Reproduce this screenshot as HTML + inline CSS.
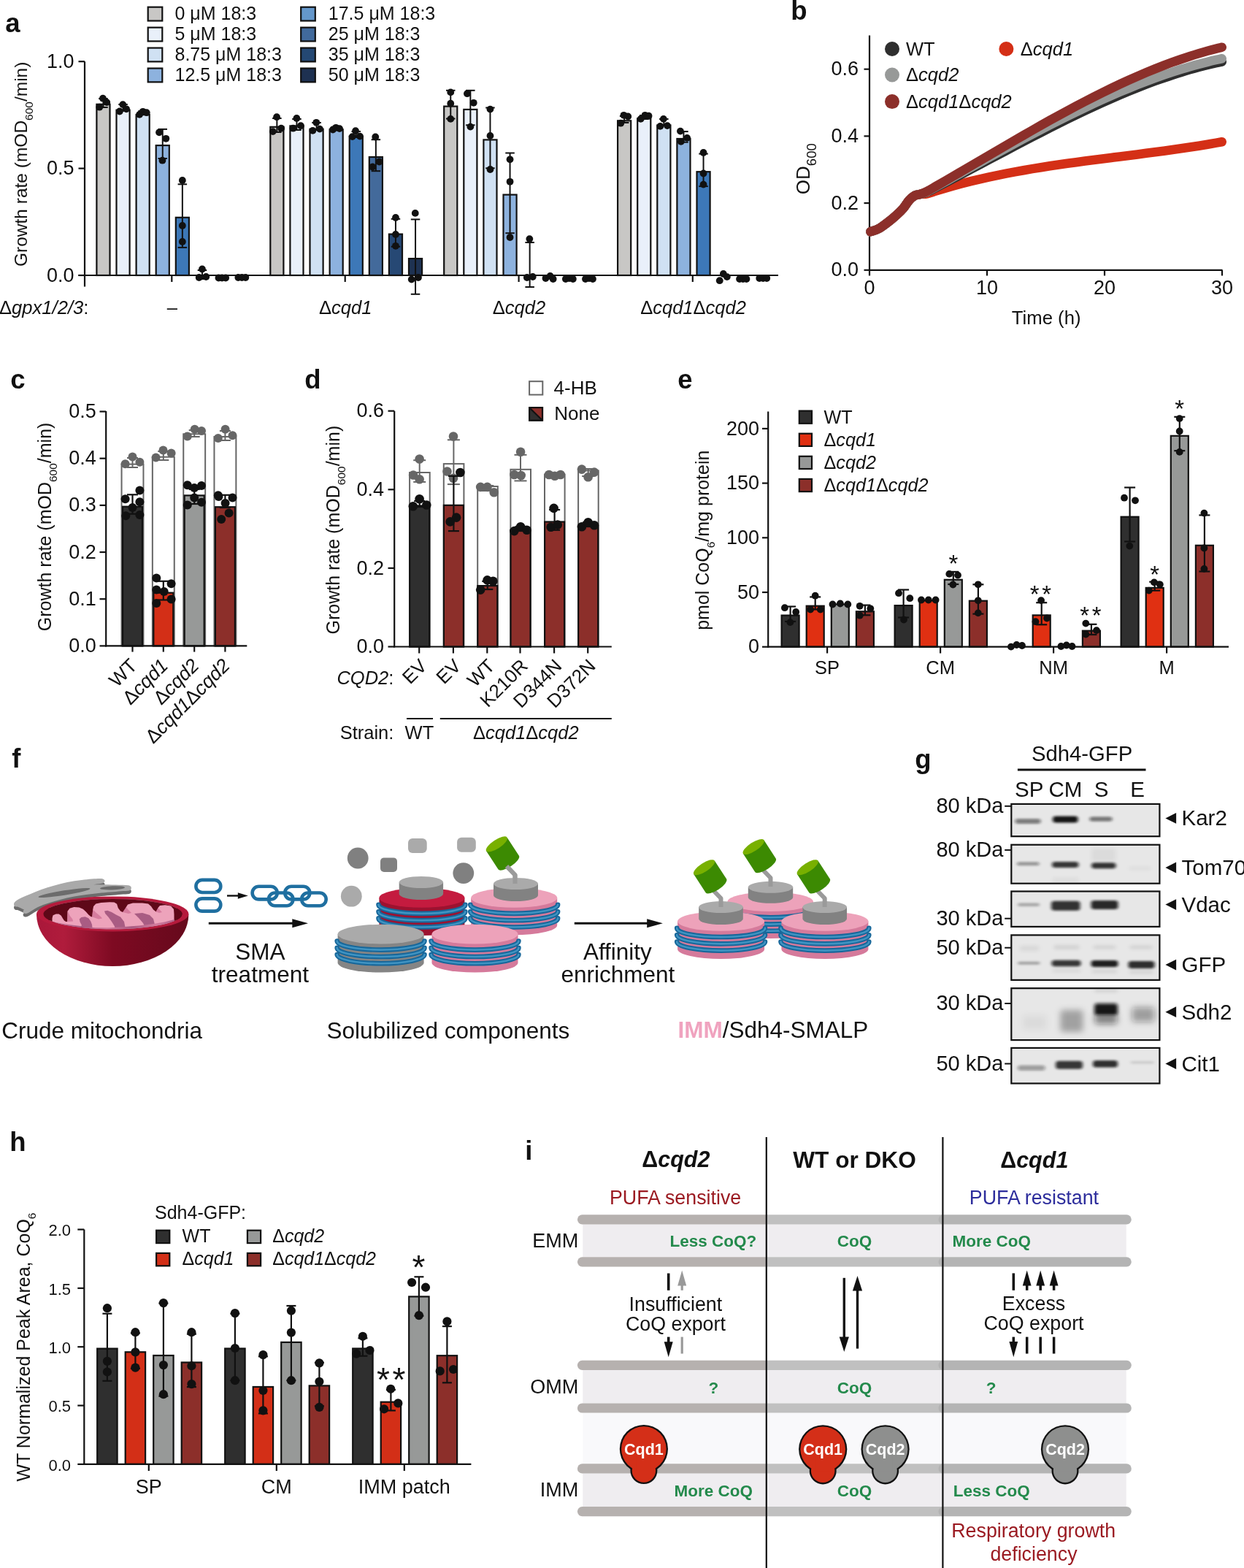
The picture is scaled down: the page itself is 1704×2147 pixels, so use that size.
<!DOCTYPE html><html><head><meta charset="utf-8"><title>Figure</title>
<style>html,body{margin:0;padding:0;background:#fff;}svg{display:block;}text{font-family:"Liberation Sans", Arial, Helvetica, sans-serif;}</style></head><body>
<svg xmlns="http://www.w3.org/2000/svg" width="1704" height="2147" viewBox="0 0 1704 2147" fill="#111">
<rect x="0" y="0" width="1704" height="2147" fill="#fff"/>
<text x="7.2" y="44" font-size="36.5" font-weight="bold">a</text>
<text x="1083.2" y="26.8" font-size="36.5" font-weight="bold">b</text>
<text x="14.2" y="532" font-size="36.5" font-weight="bold">c</text>
<text x="417.2" y="532" font-size="36.5" font-weight="bold">d</text>
<text x="928.2" y="532" font-size="36.5" font-weight="bold">e</text>
<text x="16.2" y="1051" font-size="36.5" font-weight="bold">f</text>
<text x="1253.2" y="1052" font-size="36.5" font-weight="bold">g</text>
<text x="13.2" y="1576" font-size="36.5" font-weight="bold">h</text>
<text x="719.2" y="1588" font-size="36.5" font-weight="bold">i</text>
<rect x="202.7" y="9.7" width="19.6" height="18.8" fill="#c8c7c5" stroke="#111" stroke-width="2.2" />
<text x="239.5" y="26.9" font-size="25">0 μM 18:3</text>
<rect x="202.7" y="37.65" width="19.6" height="18.8" fill="#e9f0fa" stroke="#111" stroke-width="2.2" />
<text x="239.5" y="54.85" font-size="25">5 μM 18:3</text>
<rect x="202.7" y="65.6" width="19.6" height="18.8" fill="#d0e1f3" stroke="#111" stroke-width="2.2" />
<text x="239.5" y="82.8" font-size="25">8.75 μM 18:3</text>
<rect x="202.7" y="93.55" width="19.6" height="18.8" fill="#8db2de" stroke="#111" stroke-width="2.2" />
<text x="239.5" y="110.75" font-size="25">12.5 μM 18:3</text>
<rect x="412.2" y="9.7" width="19.6" height="18.8" fill="#6497cb" stroke="#111" stroke-width="2.2" />
<text x="449.8" y="26.9" font-size="25">17.5 μM 18:3</text>
<rect x="412.2" y="37.65" width="19.6" height="18.8" fill="#416a9c" stroke="#111" stroke-width="2.2" />
<text x="449.8" y="54.85" font-size="25">25 μM 18:3</text>
<rect x="412.2" y="65.6" width="19.6" height="18.8" fill="#244873" stroke="#111" stroke-width="2.2" />
<text x="449.8" y="82.8" font-size="25">35 μM 18:3</text>
<rect x="412.2" y="93.55" width="19.6" height="18.8" fill="#1e3151" stroke="#111" stroke-width="2.2" />
<text x="449.8" y="110.75" font-size="25">50 μM 18:3</text>
<line x1="116" y1="84.2" x2="116" y2="392.5" stroke="#111" stroke-width="2.2" />
<line x1="107.5" y1="377" x2="1066" y2="377" stroke="#111" stroke-width="2.2" />
<line x1="107.5" y1="84.2" x2="116" y2="84.2" stroke="#111" stroke-width="2.2" />
<text x="101.6" y="92.8" font-size="27" text-anchor="end">1.0</text>
<line x1="107.5" y1="230.6" x2="116" y2="230.6" stroke="#111" stroke-width="2.2" />
<text x="101.6" y="239.2" font-size="27" text-anchor="end">0.5</text>
<line x1="107.5" y1="377" x2="116" y2="377" stroke="#111" stroke-width="2.2" />
<text x="101.6" y="385.6" font-size="27" text-anchor="end">0.0</text>
<line x1="235.3" y1="377" x2="235.3" y2="386" stroke="#111" stroke-width="2.2" />
<line x1="472.7" y1="377" x2="472.7" y2="386" stroke="#111" stroke-width="2.2" />
<line x1="710.6" y1="377" x2="710.6" y2="386" stroke="#111" stroke-width="2.2" />
<line x1="948.8" y1="377" x2="948.8" y2="386" stroke="#111" stroke-width="2.2" />
<text x="37" y="224.8" font-size="24.5" text-anchor="middle" transform="rotate(-90 37 224.8)">Growth rate (mOD<tspan font-size="15.5" dy="8">600</tspan><tspan dy="-8">/min)</tspan></text>
<text x="-1" y="429.5" font-size="25.6">Δ<tspan font-style="italic">gpx1/2/3</tspan>:</text>
<text x="235.8" y="429.5" font-size="25.6" text-anchor="middle">–</text>
<text x="473.2" y="429.5" font-size="25.6" text-anchor="middle">Δ<tspan font-style="italic">cqd1</tspan></text>
<text x="711" y="429.5" font-size="25.6" text-anchor="middle">Δ<tspan font-style="italic">cqd2</tspan></text>
<text x="949.5" y="429.5" font-size="25.5" text-anchor="middle">Δ<tspan font-style="italic">cqd1</tspan>Δ<tspan font-style="italic">cqd2</tspan></text>
<rect x="132.4" y="142.8" width="18.1" height="234.2" fill="#c8c7c5" stroke="#111" stroke-width="2.2" />
<line x1="141.45" y1="135" x2="141.45" y2="147" stroke="#111" stroke-width="2" />
<line x1="135.2" y1="135" x2="147.7" y2="135" stroke="#111" stroke-width="2" />
<line x1="135.2" y1="147" x2="147.7" y2="147" stroke="#111" stroke-width="2" />
<circle cx="136.25" cy="146.7" r="4.9" fill="#111" />
<circle cx="140.95" cy="134.7" r="4.9" fill="#111" />
<circle cx="146.25" cy="140.1" r="4.9" fill="#111" />
<rect x="159.5" y="150.7" width="18.1" height="226.3" fill="#e9f0fa" stroke="#111" stroke-width="2.2" />
<line x1="168.55" y1="143" x2="168.55" y2="152" stroke="#111" stroke-width="2" />
<line x1="162.3" y1="143" x2="174.8" y2="143" stroke="#111" stroke-width="2" />
<line x1="162.3" y1="152" x2="174.8" y2="152" stroke="#111" stroke-width="2" />
<circle cx="163.85" cy="152.5" r="4.9" fill="#111" />
<circle cx="168.25" cy="143.1" r="4.9" fill="#111" />
<circle cx="173.05" cy="149.3" r="4.9" fill="#111" />
<rect x="186.6" y="157.1" width="18.1" height="219.9" fill="#d0e1f3" stroke="#111" stroke-width="2.2" />
<line x1="195.65" y1="152" x2="195.65" y2="157" stroke="#111" stroke-width="2" />
<line x1="189.4" y1="152" x2="201.9" y2="152" stroke="#111" stroke-width="2" />
<line x1="189.4" y1="157" x2="201.9" y2="157" stroke="#111" stroke-width="2" />
<circle cx="191.05" cy="156.9" r="4.9" fill="#111" />
<circle cx="195.75" cy="152.8" r="4.9" fill="#111" />
<circle cx="200.75" cy="154.2" r="4.9" fill="#111" />
<rect x="213.7" y="199.1" width="18.1" height="177.9" fill="#8db2de" stroke="#111" stroke-width="2.2" />
<line x1="222.75" y1="176.9" x2="222.75" y2="217" stroke="#111" stroke-width="2" />
<line x1="216.5" y1="176.9" x2="229" y2="176.9" stroke="#111" stroke-width="2" />
<line x1="216.5" y1="217" x2="229" y2="217" stroke="#111" stroke-width="2" />
<circle cx="218.05" cy="181.3" r="4.9" fill="#111" />
<circle cx="227.35" cy="189.8" r="4.9" fill="#111" />
<circle cx="222.45" cy="219.7" r="4.9" fill="#111" />
<rect x="240.8" y="297.8" width="18.1" height="79.2" fill="#3d78b8" stroke="#111" stroke-width="2.2" />
<line x1="249.85" y1="252.3" x2="249.85" y2="338.9" stroke="#111" stroke-width="2" />
<line x1="243.6" y1="252.3" x2="256.1" y2="252.3" stroke="#111" stroke-width="2" />
<line x1="243.6" y1="338.9" x2="256.1" y2="338.9" stroke="#111" stroke-width="2" />
<circle cx="249.85" cy="247" r="4.9" fill="#111" />
<circle cx="249.85" cy="309" r="4.9" fill="#111" />
<circle cx="249.85" cy="331" r="4.9" fill="#111" />
<line x1="276.95" y1="370" x2="276.95" y2="382" stroke="#111" stroke-width="2" />
<line x1="270.7" y1="370" x2="283.2" y2="370" stroke="#111" stroke-width="2" />
<line x1="270.7" y1="382" x2="283.2" y2="382" stroke="#111" stroke-width="2" />
<circle cx="272.65" cy="380" r="4.9" fill="#111" />
<circle cx="276.95" cy="368.5" r="4.9" fill="#111" />
<circle cx="282.25" cy="379" r="4.9" fill="#111" />
<circle cx="299.45" cy="380.5" r="4.9" fill="#111" />
<circle cx="304.05" cy="380.5" r="4.9" fill="#111" />
<circle cx="309.15" cy="380.5" r="4.9" fill="#111" />
<circle cx="326.35" cy="380" r="4.9" fill="#111" />
<circle cx="331.35" cy="380" r="4.9" fill="#111" />
<circle cx="336.35" cy="380" r="4.9" fill="#111" />
<rect x="370.3" y="173.8" width="18.1" height="203.2" fill="#c8c7c5" stroke="#111" stroke-width="2.2" />
<line x1="379.35" y1="162" x2="379.35" y2="181" stroke="#111" stroke-width="2" />
<line x1="373.1" y1="162" x2="385.6" y2="162" stroke="#111" stroke-width="2" />
<line x1="373.1" y1="181" x2="385.6" y2="181" stroke="#111" stroke-width="2" />
<circle cx="379.05" cy="160.2" r="4.9" fill="#111" />
<circle cx="373.75" cy="180.1" r="4.9" fill="#111" />
<circle cx="385.15" cy="175.7" r="4.9" fill="#111" />
<rect x="397.4" y="172.4" width="18.1" height="204.6" fill="#e9f0fa" stroke="#111" stroke-width="2.2" />
<line x1="406.45" y1="163" x2="406.45" y2="178" stroke="#111" stroke-width="2" />
<line x1="400.2" y1="163" x2="412.7" y2="163" stroke="#111" stroke-width="2" />
<line x1="400.2" y1="178" x2="412.7" y2="178" stroke="#111" stroke-width="2" />
<circle cx="406.35" cy="162" r="4.9" fill="#111" />
<circle cx="401.45" cy="175.7" r="4.9" fill="#111" />
<circle cx="411.95" cy="172.2" r="4.9" fill="#111" />
<rect x="424.5" y="176.8" width="18.1" height="200.2" fill="#d0e1f3" stroke="#111" stroke-width="2.2" />
<line x1="433.55" y1="168" x2="433.55" y2="178" stroke="#111" stroke-width="2" />
<line x1="427.3" y1="168" x2="439.8" y2="168" stroke="#111" stroke-width="2" />
<line x1="427.3" y1="178" x2="439.8" y2="178" stroke="#111" stroke-width="2" />
<circle cx="433.25" cy="167.8" r="4.9" fill="#111" />
<circle cx="428.35" cy="178.9" r="4.9" fill="#111" />
<circle cx="437.95" cy="176.6" r="4.9" fill="#111" />
<rect x="451.6" y="177.3" width="18.1" height="199.7" fill="#8db2de" stroke="#111" stroke-width="2.2" />
<line x1="460.65" y1="175" x2="460.65" y2="178" stroke="#111" stroke-width="2" />
<line x1="454.4" y1="175" x2="466.9" y2="175" stroke="#111" stroke-width="2" />
<line x1="454.4" y1="178" x2="466.9" y2="178" stroke="#111" stroke-width="2" />
<circle cx="455.95" cy="177.5" r="4.9" fill="#111" />
<circle cx="460.15" cy="174.8" r="4.9" fill="#111" />
<circle cx="465.05" cy="176.1" r="4.9" fill="#111" />
<rect x="478.7" y="186.8" width="18.1" height="190.2" fill="#3d78b8" stroke="#111" stroke-width="2.2" />
<line x1="487.75" y1="180" x2="487.75" y2="188" stroke="#111" stroke-width="2" />
<line x1="481.5" y1="180" x2="494" y2="180" stroke="#111" stroke-width="2" />
<line x1="481.5" y1="188" x2="494" y2="188" stroke="#111" stroke-width="2" />
<circle cx="487.05" cy="179.2" r="4.9" fill="#111" />
<circle cx="482.65" cy="187.1" r="4.9" fill="#111" />
<circle cx="492.95" cy="186.6" r="4.9" fill="#111" />
<rect x="505.8" y="215" width="18.1" height="162" fill="#436a9b" stroke="#111" stroke-width="2.2" />
<line x1="514.85" y1="191.2" x2="514.85" y2="234.2" stroke="#111" stroke-width="2" />
<line x1="508.6" y1="191.2" x2="521.1" y2="191.2" stroke="#111" stroke-width="2" />
<line x1="508.6" y1="234.2" x2="521.1" y2="234.2" stroke="#111" stroke-width="2" />
<circle cx="514.25" cy="187.5" r="4.9" fill="#111" />
<circle cx="519.55" cy="221.5" r="4.9" fill="#111" />
<circle cx="510.15" cy="228.5" r="4.9" fill="#111" />
<rect x="532.9" y="320.6" width="18.1" height="56.4" fill="#264874" stroke="#111" stroke-width="2.2" />
<line x1="541.95" y1="299.8" x2="541.95" y2="337.7" stroke="#111" stroke-width="2" />
<line x1="535.7" y1="299.8" x2="548.2" y2="299.8" stroke="#111" stroke-width="2" />
<line x1="535.7" y1="337.7" x2="548.2" y2="337.7" stroke="#111" stroke-width="2" />
<circle cx="541.95" cy="298" r="4.9" fill="#111" />
<circle cx="541.95" cy="321" r="4.9" fill="#111" />
<circle cx="541.95" cy="336.8" r="4.9" fill="#111" />
<rect x="560" y="354.1" width="18.1" height="22.9" fill="#1e3252" stroke="#111" stroke-width="2.2" />
<line x1="569.05" y1="300.4" x2="569.05" y2="402.8" stroke="#111" stroke-width="2" />
<line x1="562.8" y1="300.4" x2="575.3" y2="300.4" stroke="#111" stroke-width="2" />
<line x1="562.8" y1="402.8" x2="575.3" y2="402.8" stroke="#111" stroke-width="2" />
<circle cx="568.75" cy="291.9" r="4.9" fill="#111" />
<circle cx="563.75" cy="382.6" r="4.9" fill="#111" />
<circle cx="572.95" cy="380" r="4.9" fill="#111" />
<rect x="608.2" y="145.6" width="18.1" height="231.4" fill="#c8c7c5" stroke="#111" stroke-width="2.2" />
<line x1="617.25" y1="123.8" x2="617.25" y2="162.5" stroke="#111" stroke-width="2" />
<line x1="611" y1="123.8" x2="623.5" y2="123.8" stroke="#111" stroke-width="2" />
<line x1="611" y1="162.5" x2="623.5" y2="162.5" stroke="#111" stroke-width="2" />
<circle cx="617.25" cy="126.4" r="4.9" fill="#111" />
<circle cx="617.25" cy="141.7" r="4.9" fill="#111" />
<circle cx="617.25" cy="162.9" r="4.9" fill="#111" />
<rect x="635.3" y="149.9" width="18.1" height="227.1" fill="#e9f0fa" stroke="#111" stroke-width="2.2" />
<line x1="644.35" y1="123.8" x2="644.35" y2="171.3" stroke="#111" stroke-width="2" />
<line x1="638.1" y1="123.8" x2="650.6" y2="123.8" stroke="#111" stroke-width="2" />
<line x1="638.1" y1="171.3" x2="650.6" y2="171.3" stroke="#111" stroke-width="2" />
<circle cx="639.95" cy="128.2" r="4.9" fill="#111" />
<circle cx="648.75" cy="140.8" r="4.9" fill="#111" />
<circle cx="644.35" cy="173.6" r="4.9" fill="#111" />
<rect x="662.4" y="191.4" width="18.1" height="185.6" fill="#d0e1f3" stroke="#111" stroke-width="2.2" />
<line x1="671.45" y1="147.5" x2="671.45" y2="230.3" stroke="#111" stroke-width="2" />
<line x1="665.2" y1="147.5" x2="677.7" y2="147.5" stroke="#111" stroke-width="2" />
<line x1="665.2" y1="230.3" x2="677.7" y2="230.3" stroke="#111" stroke-width="2" />
<circle cx="671.45" cy="149.6" r="4.9" fill="#111" />
<circle cx="671.45" cy="185.9" r="4.9" fill="#111" />
<circle cx="671.45" cy="232" r="4.9" fill="#111" />
<rect x="689.5" y="266.6" width="18.1" height="110.4" fill="#8db2de" stroke="#111" stroke-width="2.2" />
<line x1="698.55" y1="209.5" x2="698.55" y2="319.2" stroke="#111" stroke-width="2" />
<line x1="692.3" y1="209.5" x2="704.8" y2="209.5" stroke="#111" stroke-width="2" />
<line x1="692.3" y1="319.2" x2="704.8" y2="319.2" stroke="#111" stroke-width="2" />
<circle cx="698.55" cy="218.3" r="4.9" fill="#111" />
<circle cx="698.55" cy="248.8" r="4.9" fill="#111" />
<circle cx="698.55" cy="325" r="4.9" fill="#111" />
<line x1="725.65" y1="332" x2="725.65" y2="393" stroke="#111" stroke-width="2" />
<line x1="719.4" y1="332" x2="731.9" y2="332" stroke="#111" stroke-width="2" />
<line x1="719.4" y1="393" x2="731.9" y2="393" stroke="#111" stroke-width="2" />
<circle cx="721.85" cy="380" r="4.9" fill="#111" />
<circle cx="729.75" cy="379" r="4.9" fill="#111" />
<circle cx="725.35" cy="327.1" r="4.9" fill="#111" />
<circle cx="747.45" cy="381" r="4.9" fill="#111" />
<circle cx="753.65" cy="378" r="4.9" fill="#111" />
<circle cx="757.65" cy="382" r="4.9" fill="#111" />
<circle cx="774.85" cy="382" r="4.9" fill="#111" />
<circle cx="779.85" cy="381" r="4.9" fill="#111" />
<circle cx="784.85" cy="382" r="4.9" fill="#111" />
<circle cx="801.95" cy="382" r="4.9" fill="#111" />
<circle cx="806.95" cy="381" r="4.9" fill="#111" />
<circle cx="811.95" cy="382" r="4.9" fill="#111" />
<rect x="846.1" y="165.3" width="18.1" height="211.7" fill="#c8c7c5" stroke="#111" stroke-width="2.2" />
<line x1="855.15" y1="159" x2="855.15" y2="168" stroke="#111" stroke-width="2" />
<line x1="848.9" y1="159" x2="861.4" y2="159" stroke="#111" stroke-width="2" />
<line x1="848.9" y1="168" x2="861.4" y2="168" stroke="#111" stroke-width="2" />
<circle cx="850.25" cy="168.7" r="4.9" fill="#111" />
<circle cx="854.45" cy="157.8" r="4.9" fill="#111" />
<circle cx="860.25" cy="159.5" r="4.9" fill="#111" />
<rect x="873.2" y="162.3" width="18.1" height="214.7" fill="#e9f0fa" stroke="#111" stroke-width="2.2" />
<line x1="882.25" y1="158" x2="882.25" y2="163" stroke="#111" stroke-width="2" />
<line x1="876" y1="158" x2="888.5" y2="158" stroke="#111" stroke-width="2" />
<line x1="876" y1="163" x2="888.5" y2="163" stroke="#111" stroke-width="2" />
<circle cx="877.65" cy="162.9" r="4.9" fill="#111" />
<circle cx="883.55" cy="157.8" r="4.9" fill="#111" />
<circle cx="888.55" cy="158.7" r="4.9" fill="#111" />
<rect x="900.3" y="171.5" width="18.1" height="205.5" fill="#d0e1f3" stroke="#111" stroke-width="2.2" />
<line x1="909.35" y1="163" x2="909.35" y2="172" stroke="#111" stroke-width="2" />
<line x1="903.1" y1="163" x2="915.6" y2="163" stroke="#111" stroke-width="2" />
<line x1="903.1" y1="172" x2="915.6" y2="172" stroke="#111" stroke-width="2" />
<circle cx="904.35" cy="172.9" r="4.9" fill="#111" />
<circle cx="908.85" cy="162.9" r="4.9" fill="#111" />
<circle cx="914.05" cy="172.1" r="4.9" fill="#111" />
<rect x="927.4" y="190" width="18.1" height="187" fill="#8db2de" stroke="#111" stroke-width="2.2" />
<line x1="936.45" y1="180.1" x2="936.45" y2="194.7" stroke="#111" stroke-width="2" />
<line x1="930.2" y1="180.1" x2="942.7" y2="180.1" stroke="#111" stroke-width="2" />
<line x1="930.2" y1="194.7" x2="942.7" y2="194.7" stroke="#111" stroke-width="2" />
<circle cx="931.95" cy="179.6" r="4.9" fill="#111" />
<circle cx="941.15" cy="188.9" r="4.9" fill="#111" />
<circle cx="932.75" cy="193.9" r="4.9" fill="#111" />
<rect x="954.5" y="235.2" width="18.1" height="141.8" fill="#3d78b8" stroke="#111" stroke-width="2.2" />
<line x1="963.55" y1="210.6" x2="963.55" y2="255.1" stroke="#111" stroke-width="2" />
<line x1="957.3" y1="210.6" x2="969.8" y2="210.6" stroke="#111" stroke-width="2" />
<line x1="957.3" y1="255.1" x2="969.8" y2="255.1" stroke="#111" stroke-width="2" />
<circle cx="963.55" cy="209" r="4.9" fill="#111" />
<circle cx="963.55" cy="237.5" r="4.9" fill="#111" />
<circle cx="963.55" cy="252.6" r="4.9" fill="#111" />
<circle cx="985.75" cy="384.2" r="4.9" fill="#111" />
<circle cx="990.85" cy="375" r="4.9" fill="#111" />
<circle cx="995.85" cy="379.1" r="4.9" fill="#111" />
<circle cx="1013.05" cy="382" r="4.9" fill="#111" />
<circle cx="1017.75" cy="382" r="4.9" fill="#111" />
<circle cx="1022.45" cy="382" r="4.9" fill="#111" />
<circle cx="1040.25" cy="381" r="4.9" fill="#111" />
<circle cx="1045.25" cy="381" r="4.9" fill="#111" />
<circle cx="1050.25" cy="381" r="4.9" fill="#111" />
<line x1="107.5" y1="377" x2="1066" y2="377" stroke="#111" stroke-width="2.2" />
<line x1="1191" y1="48.5" x2="1191" y2="370.8" stroke="#111" stroke-width="2.2" />
<line x1="1190" y1="369.8" x2="1674.5" y2="369.8" stroke="#111" stroke-width="2.2" />
<line x1="1183.5" y1="369.8" x2="1191" y2="369.8" stroke="#111" stroke-width="2.2" />
<text x="1176" y="378.3" font-size="27" text-anchor="end">0.0</text>
<line x1="1183.5" y1="278.1" x2="1191" y2="278.1" stroke="#111" stroke-width="2.2" />
<text x="1176" y="286.6" font-size="27" text-anchor="end">0.2</text>
<line x1="1183.5" y1="186.4" x2="1191" y2="186.4" stroke="#111" stroke-width="2.2" />
<text x="1176" y="194.9" font-size="27" text-anchor="end">0.4</text>
<line x1="1183.5" y1="94.7" x2="1191" y2="94.7" stroke="#111" stroke-width="2.2" />
<text x="1176" y="103.2" font-size="27" text-anchor="end">0.6</text>
<line x1="1191" y1="369.8" x2="1191" y2="377.5" stroke="#111" stroke-width="2.2" />
<text x="1191" y="403" font-size="27" text-anchor="middle">0</text>
<line x1="1352" y1="369.8" x2="1352" y2="377.5" stroke="#111" stroke-width="2.2" />
<text x="1352" y="403" font-size="27" text-anchor="middle">10</text>
<line x1="1513" y1="369.8" x2="1513" y2="377.5" stroke="#111" stroke-width="2.2" />
<text x="1513" y="403" font-size="27" text-anchor="middle">20</text>
<line x1="1674" y1="369.8" x2="1674" y2="377.5" stroke="#111" stroke-width="2.2" />
<text x="1674" y="403" font-size="27" text-anchor="middle">30</text>
<text x="1433.2" y="443.9" font-size="25.7" text-anchor="middle">Time (h)</text>
<text x="1108.7" y="231.2" font-size="26" text-anchor="middle" transform="rotate(-90 1108.7 231.2)">OD<tspan font-size="18.5" dy="9.3">600</tspan></text>
<path d="M1192.5,317.2 C1194.38,316.5 1199.88,315.12 1203.8,313 C1207.72,310.88 1212.08,307.48 1216,304.5 C1219.92,301.52 1223.7,298.38 1227.3,295.1 C1230.9,291.82 1234.63,288.23 1237.6,284.8 C1240.57,281.37 1242.6,277.32 1245.1,274.5 C1247.6,271.68 1250.1,269.32 1252.6,267.9 C1255.1,266.48 1257.2,266.44 1260.1,266 C1263,265.56 1266.35,266.03 1270,265.27 C1273.65,264.51 1278,262.69 1282,261.46 C1286,260.22 1290,259.02 1294,257.86 C1298,256.69 1302,255.56 1306,254.45 C1310,253.35 1314,252.28 1318,251.24 C1322,250.2 1326,249.19 1330,248.2 C1334,247.22 1338,246.27 1342,245.34 C1346,244.41 1350,243.51 1354,242.63 C1358,241.76 1362,240.9 1366,240.08 C1370,239.25 1374,238.44 1378,237.66 C1382,236.88 1386,236.11 1390,235.37 C1394,234.63 1398,233.91 1402,233.2 C1406,232.5 1410,231.82 1414,231.15 C1418,230.48 1422,229.83 1426,229.19 C1430,228.55 1434,227.93 1438,227.32 C1442,226.71 1446,226.12 1450,225.53 C1454,224.95 1458,224.38 1462,223.81 C1466,223.25 1470,222.7 1474,222.16 C1478,221.61 1482,221.08 1486,220.55 C1490,220.02 1494,219.5 1498,218.98 C1502,218.46 1506,217.95 1510,217.44 C1514,216.93 1518,216.43 1522,215.92 C1526,215.42 1530,214.92 1534,214.42 C1538,213.91 1542,213.41 1546,212.91 C1550,212.4 1554,211.9 1558,211.39 C1562,210.88 1566,210.37 1570,209.85 C1574,209.34 1578,208.81 1582,208.29 C1586,207.76 1590,207.22 1594,206.68 C1598,206.14 1602,205.58 1606,205.02 C1610,204.46 1614,203.89 1618,203.31 C1622,202.72 1626,202.13 1630,201.52 C1634,200.91 1638,200.29 1642,199.66 C1646,199.02 1650,198.37 1654,197.7 C1658,197.04 1662.72,196.22 1666,195.65 C1669.28,195.08 1672.42,194.5 1673.7,194.28" fill="none" stroke="#d42f16" stroke-width="12.6" stroke-linecap="round" stroke-linejoin="round"/>
<path d="M1192.5,317.2 C1194.38,316.5 1199.88,315.12 1203.8,313 C1207.72,310.88 1212.08,307.48 1216,304.5 C1219.92,301.52 1223.7,298.38 1227.3,295.1 C1230.9,291.82 1234.63,288.23 1237.6,284.8 C1240.57,281.37 1242.6,277.32 1245.1,274.5 C1247.6,271.68 1250.1,269.32 1252.6,267.9 C1255.1,266.48 1257.2,266.81 1260.1,266 C1263,265.19 1266.35,264.57 1270,263.05 C1273.65,261.54 1278,258.96 1282,256.9 C1286,254.84 1290,252.77 1294,250.69 C1298,248.61 1302,246.52 1306,244.43 C1310,242.33 1314,240.23 1318,238.12 C1322,236.01 1326,233.9 1330,231.78 C1334,229.67 1338,227.55 1342,225.43 C1346,223.31 1350,221.18 1354,219.06 C1358,216.94 1362,214.82 1366,212.7 C1370,210.58 1374,208.46 1378,206.35 C1382,204.24 1386,202.13 1390,200.02 C1394,197.92 1398,195.82 1402,193.73 C1406,191.64 1410,189.56 1414,187.49 C1418,185.42 1422,183.35 1426,181.3 C1430,179.25 1434,177.2 1438,175.18 C1442,173.15 1446,171.13 1450,169.13 C1454,167.13 1458,165.15 1462,163.18 C1466,161.21 1470,159.26 1474,157.33 C1478,155.39 1482,153.48 1486,151.58 C1490,149.69 1494,147.82 1498,145.96 C1502,144.11 1506,142.28 1510,140.48 C1514,138.67 1518,136.89 1522,135.13 C1526,133.38 1530,131.65 1534,129.94 C1538,128.24 1542,126.56 1546,124.92 C1550,123.27 1554,121.66 1558,120.07 C1562,118.49 1566,116.93 1570,115.41 C1574,113.89 1578,112.4 1582,110.95 C1586,109.5 1590,108.08 1594,106.7 C1598,105.32 1602,103.97 1606,102.67 C1610,101.36 1614,100.09 1618,98.87 C1622,97.64 1626,96.45 1630,95.31 C1634,94.16 1638,93.06 1642,92 C1646,90.94 1650,89.93 1654,88.96 C1658,87.99 1662.72,86.92 1666,86.19 C1669.28,85.46 1672.42,84.83 1673.7,84.56" fill="none" stroke="#2f2f2f" stroke-width="12.6" stroke-linecap="round" stroke-linejoin="round"/>
<path d="M1192.5,317.2 C1194.38,316.5 1199.88,315.12 1203.8,313 C1207.72,310.88 1212.08,307.48 1216,304.5 C1219.92,301.52 1223.7,298.38 1227.3,295.1 C1230.9,291.82 1234.63,288.23 1237.6,284.8 C1240.57,281.37 1242.6,277.32 1245.1,274.5 C1247.6,271.68 1250.1,269.32 1252.6,267.9 C1255.1,266.48 1257.2,266.91 1260.1,266 C1263,265.09 1266.35,264.12 1270,262.43 C1273.65,260.73 1278,258.03 1282,255.83 C1286,253.63 1290,251.42 1294,249.21 C1298,247 1302,244.78 1306,242.57 C1310,240.36 1314,238.14 1318,235.93 C1322,233.72 1326,231.5 1330,229.29 C1334,227.08 1338,224.87 1342,222.67 C1346,220.46 1350,218.26 1354,216.07 C1358,213.87 1362,211.68 1366,209.49 C1370,207.31 1374,205.13 1378,202.96 C1382,200.79 1386,198.63 1390,196.48 C1394,194.33 1398,192.18 1402,190.05 C1406,187.92 1410,185.8 1414,183.7 C1418,181.59 1422,179.49 1426,177.41 C1430,175.34 1434,173.27 1438,171.22 C1442,169.17 1446,167.14 1450,165.12 C1454,163.1 1458,161.1 1462,159.12 C1466,157.14 1470,155.18 1474,153.24 C1478,151.3 1482,149.38 1486,147.48 C1490,145.58 1494,143.7 1498,141.85 C1502,140 1506,138.17 1510,136.36 C1514,134.56 1518,132.78 1522,131.02 C1526,129.27 1530,127.54 1534,125.84 C1538,124.14 1542,122.47 1546,120.83 C1550,119.19 1554,117.57 1558,115.99 C1562,114.41 1566,112.86 1570,111.34 C1574,109.83 1578,108.34 1582,106.89 C1586,105.44 1590,104.02 1594,102.64 C1598,101.26 1602,99.91 1606,98.6 C1610,97.3 1614,96.02 1618,94.79 C1622,93.56 1626,92.36 1630,91.21 C1634,90.06 1638,88.94 1642,87.87 C1646,86.8 1650,85.77 1654,84.78 C1658,83.79 1662.72,82.7 1666,81.95 C1669.28,81.2 1672.42,80.55 1673.7,80.27" fill="none" stroke="#979998" stroke-width="12.6" stroke-linecap="round" stroke-linejoin="round"/>
<path d="M1192.5,317.2 C1194.38,316.5 1199.88,315.12 1203.8,313 C1207.72,310.88 1212.08,307.48 1216,304.5 C1219.92,301.52 1223.7,298.38 1227.3,295.1 C1230.9,291.82 1234.63,288.23 1237.6,284.8 C1240.57,281.37 1242.6,277.32 1245.1,274.5 C1247.6,271.68 1250.1,269.32 1252.6,267.9 C1255.1,266.48 1257.2,266.99 1260.1,266 C1263,265.01 1266.35,263.76 1270,261.94 C1273.65,260.12 1278,257.37 1282,255.07 C1286,252.77 1290,250.46 1294,248.14 C1298,245.83 1302,243.5 1306,241.17 C1310,238.85 1314,236.51 1318,234.18 C1322,231.84 1326,229.5 1330,227.16 C1334,224.81 1338,222.47 1342,220.13 C1346,217.78 1350,215.44 1354,213.1 C1358,210.76 1362,208.42 1366,206.08 C1370,203.75 1374,201.42 1378,199.09 C1382,196.77 1386,194.45 1390,192.13 C1394,189.82 1398,187.52 1402,185.22 C1406,182.93 1410,180.64 1414,178.37 C1418,176.09 1422,173.83 1426,171.58 C1430,169.32 1434,167.09 1438,164.86 C1442,162.64 1446,160.43 1450,158.24 C1454,156.05 1458,153.87 1462,151.72 C1466,149.56 1470,147.42 1474,145.3 C1478,143.18 1482,141.09 1486,139.01 C1490,136.93 1494,134.88 1498,132.85 C1502,130.82 1506,128.81 1510,126.83 C1514,124.85 1518,122.9 1522,120.97 C1526,119.04 1530,117.14 1534,115.27 C1538,113.4 1542,111.56 1546,109.75 C1550,107.94 1554,106.16 1558,104.42 C1562,102.67 1566,100.96 1570,99.28 C1574,97.6 1578,95.96 1582,94.35 C1586,92.74 1590,91.17 1594,89.64 C1598,88.11 1602,86.61 1606,85.16 C1610,83.71 1614,82.29 1618,80.92 C1622,79.55 1626,78.22 1630,76.94 C1634,75.65 1638,74.41 1642,73.21 C1646,72.02 1650,70.87 1654,69.77 C1658,68.66 1662.72,67.44 1666,66.6 C1669.28,65.76 1672.42,65.04 1673.7,64.73" fill="none" stroke="#8c2f2a" stroke-width="12.6" stroke-linecap="round" stroke-linejoin="round"/>
<circle cx="1222" cy="67" r="10" fill="#2f2f2f" />
<text x="1241" y="75.5" font-size="25.5">WT</text>
<circle cx="1378.4" cy="67" r="10" fill="#d42f16" />
<text x="1397.8" y="75.5" font-size="25.5">Δ<tspan font-style="italic">cqd1</tspan></text>
<circle cx="1222" cy="102.5" r="10" fill="#979998" />
<text x="1241" y="111" font-size="25.5">Δ<tspan font-style="italic">cqd2</tspan></text>
<circle cx="1222" cy="139.1" r="10" fill="#8c2f2a" />
<text x="1241" y="147.6" font-size="25.5">Δ<tspan font-style="italic">cqd1</tspan>Δ<tspan font-style="italic">cqd2</tspan></text>
<line x1="145.2" y1="563" x2="145.2" y2="885.5" stroke="#111" stroke-width="2.2" />
<line x1="136.5" y1="884.4" x2="145.2" y2="884.4" stroke="#111" stroke-width="2.2" />
<text x="131.8" y="893" font-size="27" text-anchor="end">0.0</text>
<line x1="136.5" y1="820.22" x2="145.2" y2="820.22" stroke="#111" stroke-width="2.2" />
<text x="131.8" y="828.82" font-size="27" text-anchor="end">0.1</text>
<line x1="136.5" y1="756.04" x2="145.2" y2="756.04" stroke="#111" stroke-width="2.2" />
<text x="131.8" y="764.64" font-size="27" text-anchor="end">0.2</text>
<line x1="136.5" y1="691.86" x2="145.2" y2="691.86" stroke="#111" stroke-width="2.2" />
<text x="131.8" y="700.46" font-size="27" text-anchor="end">0.3</text>
<line x1="136.5" y1="627.68" x2="145.2" y2="627.68" stroke="#111" stroke-width="2.2" />
<text x="131.8" y="636.28" font-size="27" text-anchor="end">0.4</text>
<line x1="136.5" y1="563.5" x2="145.2" y2="563.5" stroke="#111" stroke-width="2.2" />
<text x="131.8" y="572.1" font-size="27" text-anchor="end">0.5</text>
<text x="70.3" y="721.4" font-size="25" text-anchor="middle" transform="rotate(-90 70.3 721.4)">Growth rate (mOD<tspan font-size="15.5" dy="8">600</tspan><tspan dy="-8">/min)</tspan></text>
<rect x="166.55" y="635.6" width="29.9" height="248.8" fill="#fff" stroke="#666666" stroke-width="2" />
<rect x="208.85" y="625.7" width="29.9" height="258.7" fill="#fff" stroke="#666666" stroke-width="2" />
<rect x="251.25" y="594.3" width="29.9" height="290.1" fill="#fff" stroke="#666666" stroke-width="2" />
<rect x="293.45" y="598" width="29.9" height="286.4" fill="#fff" stroke="#666666" stroke-width="2" />
<line x1="181.5" y1="627" x2="181.5" y2="640" stroke="#666666" stroke-width="2" />
<line x1="174" y1="627" x2="189" y2="627" stroke="#666666" stroke-width="2" />
<line x1="174" y1="640" x2="189" y2="640" stroke="#666666" stroke-width="2" />
<circle cx="171.6" cy="635.3" r="6" fill="#666666" />
<circle cx="181.5" cy="625.4" r="6" fill="#666666" />
<circle cx="191.4" cy="632.8" r="6" fill="#666666" />
<line x1="223.8" y1="618" x2="223.8" y2="630" stroke="#666666" stroke-width="2" />
<line x1="216.3" y1="618" x2="231.3" y2="618" stroke="#666666" stroke-width="2" />
<line x1="216.3" y1="630" x2="231.3" y2="630" stroke="#666666" stroke-width="2" />
<circle cx="213.6" cy="626.4" r="6" fill="#666666" />
<circle cx="223.5" cy="616.5" r="6" fill="#666666" />
<circle cx="234.6" cy="620.5" r="6" fill="#666666" />
<line x1="266.2" y1="589" x2="266.2" y2="598" stroke="#666666" stroke-width="2" />
<line x1="258.7" y1="589" x2="273.7" y2="589" stroke="#666666" stroke-width="2" />
<line x1="258.7" y1="598" x2="273.7" y2="598" stroke="#666666" stroke-width="2" />
<circle cx="256.8" cy="597.5" r="6" fill="#666666" />
<circle cx="266.7" cy="587.7" r="6" fill="#666666" />
<circle cx="276" cy="590.1" r="6" fill="#666666" />
<line x1="308.4" y1="590" x2="308.4" y2="603" stroke="#666666" stroke-width="2" />
<line x1="300.9" y1="590" x2="315.9" y2="590" stroke="#666666" stroke-width="2" />
<line x1="300.9" y1="603" x2="315.9" y2="603" stroke="#666666" stroke-width="2" />
<circle cx="298.8" cy="600" r="6" fill="#666666" />
<circle cx="308.6" cy="587.7" r="6" fill="#666666" />
<circle cx="318.5" cy="596.3" r="6" fill="#666666" />
<rect x="168" y="693.7" width="27" height="190.7" fill="#2f2f2f" stroke="#111" stroke-width="2.2" />
<rect x="210.3" y="811.7" width="27" height="72.7" fill="#d32f17" stroke="#111" stroke-width="2.2" />
<rect x="252.7" y="678.4" width="27" height="206" fill="#979998" stroke="#111" stroke-width="2.2" />
<rect x="294.9" y="694.2" width="27" height="190.2" fill="#8c2f2a" stroke="#111" stroke-width="2.2" />
<line x1="181.5" y1="677.3" x2="181.5" y2="703.7" stroke="#111" stroke-width="2.2" />
<line x1="174" y1="677.3" x2="189" y2="677.3" stroke="#111" stroke-width="2.2" />
<line x1="174" y1="703.7" x2="189" y2="703.7" stroke="#111" stroke-width="2.2" />
<circle cx="171.6" cy="683.2" r="6" fill="#111" />
<circle cx="191.4" cy="671.6" r="6" fill="#111" />
<circle cx="191.4" cy="687.2" r="6" fill="#111" />
<circle cx="181.5" cy="695" r="6" fill="#111" />
<circle cx="172.3" cy="706.2" r="6" fill="#111" />
<circle cx="191.4" cy="705" r="6" fill="#111" />
<line x1="223.8" y1="795.8" x2="223.8" y2="821.5" stroke="#111" stroke-width="2.2" />
<line x1="216.3" y1="795.8" x2="231.3" y2="795.8" stroke="#111" stroke-width="2.2" />
<line x1="216.3" y1="821.5" x2="231.3" y2="821.5" stroke="#111" stroke-width="2.2" />
<circle cx="214.3" cy="791.4" r="6" fill="#111" />
<circle cx="234.6" cy="799.3" r="6" fill="#111" />
<circle cx="214.3" cy="807.4" r="6" fill="#111" />
<circle cx="224.7" cy="809.9" r="6" fill="#111" />
<circle cx="214.3" cy="825.9" r="6" fill="#111" />
<circle cx="234.6" cy="820.5" r="6" fill="#111" />
<line x1="266.2" y1="670" x2="266.2" y2="690" stroke="#111" stroke-width="2.2" />
<line x1="258.7" y1="670" x2="273.7" y2="670" stroke="#111" stroke-width="2.2" />
<line x1="258.7" y1="690" x2="273.7" y2="690" stroke="#111" stroke-width="2.2" />
<circle cx="256.8" cy="664.2" r="6" fill="#111" />
<circle cx="266.2" cy="667.9" r="6" fill="#111" />
<circle cx="276" cy="664.9" r="6" fill="#111" />
<circle cx="256.8" cy="691.4" r="6" fill="#111" />
<circle cx="266.2" cy="681.5" r="6" fill="#111" />
<circle cx="276" cy="687.7" r="6" fill="#111" />
<line x1="308.4" y1="677.8" x2="308.4" y2="695" stroke="#111" stroke-width="2.2" />
<line x1="300.9" y1="677.8" x2="315.9" y2="677.8" stroke="#111" stroke-width="2.2" />
<line x1="300.9" y1="695" x2="315.9" y2="695" stroke="#111" stroke-width="2.2" />
<circle cx="298.8" cy="678.3" r="6" fill="#111" />
<circle cx="318.5" cy="681.5" r="6" fill="#111" />
<circle cx="308.6" cy="688.9" r="6" fill="#111" />
<circle cx="313.6" cy="702.5" r="6" fill="#111" />
<circle cx="303.2" cy="711.1" r="6" fill="#111" />
<circle cx="299.5" cy="680" r="6" fill="#111" />
<line x1="144.1" y1="884.4" x2="338.3" y2="884.4" stroke="#111" stroke-width="2.2" />
<line x1="181.5" y1="884.4" x2="181.5" y2="892.6" stroke="#111" stroke-width="2.2" />
<text x="189.5" y="913" font-size="26.5" text-anchor="end" transform="rotate(-45 189.5 913)">WT</text>
<line x1="223.8" y1="884.4" x2="223.8" y2="892.6" stroke="#111" stroke-width="2.2" />
<text x="231.8" y="913" font-size="26.5" text-anchor="end" transform="rotate(-45 231.8 913)">Δ<tspan font-style="italic">cqd1</tspan></text>
<line x1="266.2" y1="884.4" x2="266.2" y2="892.6" stroke="#111" stroke-width="2.2" />
<text x="274.2" y="913" font-size="26.5" text-anchor="end" transform="rotate(-45 274.2 913)">Δ<tspan font-style="italic">cqd2</tspan></text>
<line x1="308.4" y1="884.4" x2="308.4" y2="892.6" stroke="#111" stroke-width="2.2" />
<text x="316.4" y="913" font-size="26.5" text-anchor="end" transform="rotate(-45 316.4 913)">Δ<tspan font-style="italic">cqd1</tspan>Δ<tspan font-style="italic">cqd2</tspan></text>
<line x1="540.2" y1="562.8" x2="540.2" y2="886.6" stroke="#111" stroke-width="2.2" />
<line x1="531.5" y1="885.5" x2="540.2" y2="885.5" stroke="#111" stroke-width="2.2" />
<text x="526" y="894.1" font-size="27" text-anchor="end">0.0</text>
<line x1="531.5" y1="777.9" x2="540.2" y2="777.9" stroke="#111" stroke-width="2.2" />
<text x="526" y="786.5" font-size="27" text-anchor="end">0.2</text>
<line x1="531.5" y1="670.3" x2="540.2" y2="670.3" stroke="#111" stroke-width="2.2" />
<text x="526" y="678.9" font-size="27" text-anchor="end">0.4</text>
<line x1="531.5" y1="562.7" x2="540.2" y2="562.7" stroke="#111" stroke-width="2.2" />
<text x="526" y="571.3" font-size="27" text-anchor="end">0.6</text>
<text x="465.2" y="725.6" font-size="25" text-anchor="middle" transform="rotate(-90 465.2 725.6)">Growth rate (mOD<tspan font-size="15.5" dy="8">600</tspan><tspan dy="-8">/min)</tspan></text>
<rect x="561.1" y="647" width="27.6" height="238.5" fill="#fff" stroke="#666666" stroke-width="2" />
<rect x="607.8" y="635.1" width="27.6" height="250.4" fill="#fff" stroke="#666666" stroke-width="2" />
<rect x="654.2" y="666" width="27.6" height="219.5" fill="#fff" stroke="#666666" stroke-width="2" />
<rect x="699.4" y="642.8" width="27.6" height="242.7" fill="#fff" stroke="#666666" stroke-width="2" />
<rect x="746" y="649.7" width="27.6" height="235.8" fill="#fff" stroke="#666666" stroke-width="2" />
<rect x="792.1" y="644.4" width="27.6" height="241.1" fill="#fff" stroke="#666666" stroke-width="2" />
<line x1="574.7" y1="630.2" x2="574.7" y2="659.9" stroke="#666666" stroke-width="2" />
<line x1="566.2" y1="630.2" x2="583.2" y2="630.2" stroke="#666666" stroke-width="2" />
<line x1="566.2" y1="659.9" x2="583.2" y2="659.9" stroke="#666666" stroke-width="2" />
<circle cx="566.1" cy="650.5" r="6.3" fill="#666666" />
<circle cx="574.6" cy="628.5" r="6.3" fill="#666666" />
<circle cx="574.6" cy="656.3" r="6.3" fill="#666666" />
<line x1="621.4" y1="602.3" x2="621.4" y2="663.1" stroke="#666666" stroke-width="2" />
<line x1="612.9" y1="602.3" x2="629.9" y2="602.3" stroke="#666666" stroke-width="2" />
<line x1="612.9" y1="663.1" x2="629.9" y2="663.1" stroke="#666666" stroke-width="2" />
<circle cx="612.5" cy="645.5" r="6.3" fill="#666666" />
<circle cx="621" cy="597.5" r="6.3" fill="#666666" />
<circle cx="621" cy="654.9" r="6.3" fill="#666666" />
<line x1="667.8" y1="665" x2="667.8" y2="672" stroke="#666666" stroke-width="2" />
<line x1="659.3" y1="665" x2="676.3" y2="665" stroke="#666666" stroke-width="2" />
<line x1="659.3" y1="672" x2="676.3" y2="672" stroke="#666666" stroke-width="2" />
<circle cx="658.2" cy="666.9" r="6.3" fill="#666666" />
<circle cx="667.5" cy="666.9" r="6.3" fill="#666666" />
<circle cx="676.7" cy="674.3" r="6.3" fill="#666666" />
<line x1="713" y1="622.8" x2="713" y2="658.4" stroke="#666666" stroke-width="2" />
<line x1="704.5" y1="622.8" x2="721.5" y2="622.8" stroke="#666666" stroke-width="2" />
<line x1="704.5" y1="658.4" x2="721.5" y2="658.4" stroke="#666666" stroke-width="2" />
<circle cx="704.4" cy="650" r="6.3" fill="#666666" />
<circle cx="713.1" cy="618.8" r="6.3" fill="#666666" />
<circle cx="713.7" cy="651" r="6.3" fill="#666666" />
<line x1="759.6" y1="648" x2="759.6" y2="652" stroke="#666666" stroke-width="2" />
<line x1="751.1" y1="648" x2="768.1" y2="648" stroke="#666666" stroke-width="2" />
<line x1="751.1" y1="652" x2="768.1" y2="652" stroke="#666666" stroke-width="2" />
<circle cx="752" cy="650" r="6.3" fill="#666666" />
<circle cx="759.9" cy="651.8" r="6.3" fill="#666666" />
<circle cx="767.8" cy="650" r="6.3" fill="#666666" />
<line x1="805.7" y1="642" x2="805.7" y2="652" stroke="#666666" stroke-width="2" />
<line x1="797.2" y1="642" x2="814.2" y2="642" stroke="#666666" stroke-width="2" />
<line x1="797.2" y1="652" x2="814.2" y2="652" stroke="#666666" stroke-width="2" />
<circle cx="796.9" cy="642.6" r="6.3" fill="#666666" />
<circle cx="805.6" cy="653.2" r="6.3" fill="#666666" />
<circle cx="814" cy="646.6" r="6.3" fill="#666666" />
<rect x="561.2" y="692.5" width="27" height="193" fill="#2f2f2f" stroke="#111" stroke-width="2.2" />
<rect x="607.9" y="691.8" width="27" height="193.7" fill="#8c2f2a" stroke="#111" stroke-width="2.2" />
<rect x="654.3" y="802.1" width="27" height="83.4" fill="#8c2f2a" stroke="#111" stroke-width="2.2" />
<rect x="699.5" y="726.1" width="27" height="159.4" fill="#8c2f2a" stroke="#111" stroke-width="2.2" />
<rect x="746.1" y="714.5" width="27" height="171" fill="#8c2f2a" stroke="#111" stroke-width="2.2" />
<rect x="792.2" y="720.3" width="27" height="165.2" fill="#8c2f2a" stroke="#111" stroke-width="2.2" />
<line x1="574.7" y1="686" x2="574.7" y2="694" stroke="#111" stroke-width="2.2" />
<line x1="567.2" y1="686" x2="582.2" y2="686" stroke="#111" stroke-width="2.2" />
<line x1="567.2" y1="694" x2="582.2" y2="694" stroke="#111" stroke-width="2.2" />
<circle cx="565.8" cy="693.3" r="6.3" fill="#111" />
<circle cx="574.6" cy="683.3" r="6.3" fill="#111" />
<circle cx="584.3" cy="691.5" r="6.3" fill="#111" />
<line x1="621.4" y1="651.8" x2="621.4" y2="727.1" stroke="#111" stroke-width="2.2" />
<line x1="613.9" y1="651.8" x2="628.9" y2="651.8" stroke="#111" stroke-width="2.2" />
<line x1="613.9" y1="727.1" x2="628.9" y2="727.1" stroke="#111" stroke-width="2.2" />
<circle cx="630.4" cy="647" r="6.3" fill="#111" />
<circle cx="625.1" cy="708.6" r="6.3" fill="#111" />
<circle cx="616.6" cy="714.4" r="6.3" fill="#111" />
<line x1="667.8" y1="796" x2="667.8" y2="807" stroke="#111" stroke-width="2.2" />
<line x1="660.3" y1="796" x2="675.3" y2="796" stroke="#111" stroke-width="2.2" />
<line x1="660.3" y1="807" x2="675.3" y2="807" stroke="#111" stroke-width="2.2" />
<circle cx="658.2" cy="807.6" r="6.3" fill="#111" />
<circle cx="667.5" cy="794.4" r="6.3" fill="#111" />
<circle cx="675.4" cy="795.7" r="6.3" fill="#111" />
<line x1="713" y1="721" x2="713" y2="727" stroke="#111" stroke-width="2.2" />
<line x1="705.5" y1="721" x2="720.5" y2="721" stroke="#111" stroke-width="2.2" />
<line x1="705.5" y1="727" x2="720.5" y2="727" stroke="#111" stroke-width="2.2" />
<circle cx="704.4" cy="727.1" r="6.3" fill="#111" />
<circle cx="713.1" cy="721.3" r="6.3" fill="#111" />
<circle cx="721.6" cy="725.8" r="6.3" fill="#111" />
<line x1="759.6" y1="698" x2="759.6" y2="725.8" stroke="#111" stroke-width="2.2" />
<line x1="752.1" y1="698" x2="767.1" y2="698" stroke="#111" stroke-width="2.2" />
<line x1="752.1" y1="725.8" x2="767.1" y2="725.8" stroke="#111" stroke-width="2.2" />
<circle cx="758.6" cy="695.9" r="6.3" fill="#111" />
<circle cx="754.6" cy="721.8" r="6.3" fill="#111" />
<circle cx="763.8" cy="718.6" r="6.3" fill="#111" />
<line x1="805.7" y1="715" x2="805.7" y2="721" stroke="#111" stroke-width="2.2" />
<line x1="798.2" y1="715" x2="813.2" y2="715" stroke="#111" stroke-width="2.2" />
<line x1="798.2" y1="721" x2="813.2" y2="721" stroke="#111" stroke-width="2.2" />
<circle cx="796.9" cy="721.3" r="6.3" fill="#111" />
<circle cx="805.6" cy="715.2" r="6.3" fill="#111" />
<circle cx="814" cy="719.2" r="6.3" fill="#111" />
<line x1="539.1" y1="885.5" x2="837.8" y2="885.5" stroke="#111" stroke-width="2.2" />
<line x1="574.2" y1="885.5" x2="574.2" y2="894.5" stroke="#111" stroke-width="2.2" />
<text x="586.2" y="913.5" font-size="26" text-anchor="end" transform="rotate(-45 586.2 913.5)">EV</text>
<line x1="620.9" y1="885.5" x2="620.9" y2="894.5" stroke="#111" stroke-width="2.2" />
<text x="632.9" y="913.5" font-size="26" text-anchor="end" transform="rotate(-45 632.9 913.5)">EV</text>
<line x1="667.3" y1="885.5" x2="667.3" y2="894.5" stroke="#111" stroke-width="2.2" />
<text x="679.3" y="913.5" font-size="26" text-anchor="end" transform="rotate(-45 679.3 913.5)">WT</text>
<line x1="712.5" y1="885.5" x2="712.5" y2="894.5" stroke="#111" stroke-width="2.2" />
<text x="724.5" y="913.5" font-size="26" text-anchor="end" transform="rotate(-45 724.5 913.5)">K210R</text>
<line x1="759.1" y1="885.5" x2="759.1" y2="894.5" stroke="#111" stroke-width="2.2" />
<text x="771.1" y="913.5" font-size="26" text-anchor="end" transform="rotate(-45 771.1 913.5)">D344N</text>
<line x1="805.2" y1="885.5" x2="805.2" y2="894.5" stroke="#111" stroke-width="2.2" />
<text x="817.2" y="913.5" font-size="26" text-anchor="end" transform="rotate(-45 817.2 913.5)">D372N</text>
<text x="539.4" y="937" font-size="25.5" text-anchor="end"><tspan font-style="italic">CQD2</tspan>:</text>
<line x1="557" y1="984" x2="593" y2="984" stroke="#111" stroke-width="2.2" />
<line x1="602.8" y1="984" x2="837.8" y2="984" stroke="#111" stroke-width="2.2" />
<text x="539.4" y="1012.3" font-size="25.5" text-anchor="end">Strain:</text>
<text x="574.4" y="1012.3" font-size="25.5" text-anchor="middle">WT</text>
<text x="720.3" y="1012.3" font-size="25.5" text-anchor="middle">Δ<tspan font-style="italic">cqd1</tspan>Δ<tspan font-style="italic">cqd2</tspan></text>
<rect x="725.1" y="522.2" width="18.2" height="18.3" fill="#fff" stroke="#666666" stroke-width="2" />
<polygon points="724.1,557 724.1,576.7 744.1,576.7" fill="#2f2f2f"/>
<polygon points="724.1,557 744.1,557 744.1,576.7" fill="#8c2f2a"/>
<line x1="725" y1="558" x2="743.2" y2="575.8" stroke="#111" stroke-width="2" />
<rect x="725.2" y="558.1" width="17.8" height="17.5" fill="none" stroke="#111" stroke-width="2.2" />
<text x="758.6" y="539.8" font-size="26">4-HB</text>
<text x="759.2" y="575.4" font-size="26">None</text>
<line x1="1052.2" y1="563.4" x2="1052.2" y2="886.8" stroke="#111" stroke-width="2.2" />
<line x1="1044" y1="885.7" x2="1052.2" y2="885.7" stroke="#111" stroke-width="2.2" />
<text x="1040" y="894.3" font-size="27" text-anchor="end">0</text>
<line x1="1044" y1="811" x2="1052.2" y2="811" stroke="#111" stroke-width="2.2" />
<text x="1040" y="819.6" font-size="27" text-anchor="end">50</text>
<line x1="1044" y1="736.3" x2="1052.2" y2="736.3" stroke="#111" stroke-width="2.2" />
<text x="1040" y="744.9" font-size="27" text-anchor="end">100</text>
<line x1="1044" y1="661.6" x2="1052.2" y2="661.6" stroke="#111" stroke-width="2.2" />
<text x="1040" y="670.2" font-size="27" text-anchor="end">150</text>
<line x1="1044" y1="586.9" x2="1052.2" y2="586.9" stroke="#111" stroke-width="2.2" />
<text x="1040" y="595.5" font-size="27" text-anchor="end">200</text>
<text x="970.9" y="739.7" font-size="25" text-anchor="middle" transform="rotate(-90 970.9 739.7)">pmol CoQ<tspan font-size="15.5" dy="8">6</tspan><tspan dy="-8">/mg protein</tspan></text>
<rect x="1070.6" y="842.6" width="24" height="43.1" fill="#2f2f2f" stroke="#111" stroke-width="2.2" />
<line x1="1082.6" y1="830.5" x2="1082.6" y2="851" stroke="#111" stroke-width="2.2" />
<line x1="1075.1" y1="830.5" x2="1090.1" y2="830.5" stroke="#111" stroke-width="2.2" />
<line x1="1075.1" y1="851" x2="1090.1" y2="851" stroke="#111" stroke-width="2.2" />
<circle cx="1074.9" cy="832.2" r="4.9" fill="#111" />
<circle cx="1090.2" cy="838" r="4.9" fill="#111" />
<circle cx="1082.4" cy="852.1" r="4.9" fill="#111" />
<rect x="1104.7" y="829.7" width="24" height="56" fill="#e03012" stroke="#111" stroke-width="2.2" />
<line x1="1116.7" y1="817.4" x2="1116.7" y2="834.5" stroke="#111" stroke-width="2.2" />
<line x1="1109.2" y1="817.4" x2="1124.2" y2="817.4" stroke="#111" stroke-width="2.2" />
<line x1="1109.2" y1="834.5" x2="1124.2" y2="834.5" stroke="#111" stroke-width="2.2" />
<circle cx="1116.7" cy="815.7" r="4.9" fill="#111" />
<circle cx="1110.1" cy="834.5" r="4.9" fill="#111" />
<circle cx="1123.8" cy="834.5" r="4.9" fill="#111" />
<rect x="1138.8" y="827.4" width="24" height="58.3" fill="#979998" stroke="#111" stroke-width="2.2" />
<circle cx="1140.5" cy="827.5" r="4.9" fill="#111" />
<circle cx="1150.9" cy="826.5" r="4.9" fill="#111" />
<circle cx="1161.3" cy="827.5" r="4.9" fill="#111" />
<rect x="1172.9" y="837.3" width="24" height="48.4" fill="#8c2f2a" stroke="#111" stroke-width="2.2" />
<line x1="1184.9" y1="828.6" x2="1184.9" y2="842.3" stroke="#111" stroke-width="2.2" />
<line x1="1177.4" y1="828.6" x2="1192.4" y2="828.6" stroke="#111" stroke-width="2.2" />
<line x1="1177.4" y1="842.3" x2="1192.4" y2="842.3" stroke="#111" stroke-width="2.2" />
<circle cx="1177.7" cy="829.8" r="4.9" fill="#111" />
<circle cx="1192.3" cy="833.3" r="4.9" fill="#111" />
<circle cx="1177.7" cy="842.7" r="4.9" fill="#111" />
<rect x="1225.6" y="829.1" width="24" height="56.6" fill="#2f2f2f" stroke="#111" stroke-width="2.2" />
<line x1="1237.6" y1="807.5" x2="1237.6" y2="845.5" stroke="#111" stroke-width="2.2" />
<line x1="1230.1" y1="807.5" x2="1245.1" y2="807.5" stroke="#111" stroke-width="2.2" />
<line x1="1230.1" y1="845.5" x2="1245.1" y2="845.5" stroke="#111" stroke-width="2.2" />
<circle cx="1231" cy="812.2" r="4.9" fill="#111" />
<circle cx="1246.3" cy="819.2" r="4.9" fill="#111" />
<circle cx="1238" cy="848.6" r="4.9" fill="#111" />
<rect x="1259.7" y="822.2" width="24" height="63.5" fill="#e03012" stroke="#111" stroke-width="2.2" />
<circle cx="1262" cy="821.5" r="4.9" fill="#111" />
<circle cx="1271.8" cy="821.5" r="4.9" fill="#111" />
<circle cx="1281.6" cy="821.5" r="4.9" fill="#111" />
<rect x="1293.8" y="793.8" width="24" height="91.9" fill="#979998" stroke="#111" stroke-width="2.2" />
<line x1="1305.8" y1="782.9" x2="1305.8" y2="800" stroke="#111" stroke-width="2.2" />
<line x1="1298.3" y1="782.9" x2="1313.3" y2="782.9" stroke="#111" stroke-width="2.2" />
<line x1="1298.3" y1="800" x2="1313.3" y2="800" stroke="#111" stroke-width="2.2" />
<circle cx="1300.3" cy="785.9" r="4.9" fill="#111" />
<circle cx="1312" cy="787.6" r="4.9" fill="#111" />
<circle cx="1305.4" cy="800.5" r="4.9" fill="#111" />
<rect x="1327.9" y="822.7" width="24" height="63" fill="#8c2f2a" stroke="#111" stroke-width="2.2" />
<line x1="1339.9" y1="800.3" x2="1339.9" y2="840.6" stroke="#111" stroke-width="2.2" />
<line x1="1332.4" y1="800.3" x2="1347.4" y2="800.3" stroke="#111" stroke-width="2.2" />
<line x1="1332.4" y1="840.6" x2="1347.4" y2="840.6" stroke="#111" stroke-width="2.2" />
<circle cx="1339.8" cy="800.3" r="4.9" fill="#111" />
<circle cx="1339.8" cy="822.3" r="4.9" fill="#111" />
<circle cx="1339.8" cy="839.4" r="4.9" fill="#111" />
<circle cx="1384.9" cy="885.6" r="4.9" fill="#111" />
<circle cx="1392.5" cy="883" r="4.9" fill="#111" />
<circle cx="1400" cy="884" r="4.9" fill="#111" />
<rect x="1414.7" y="842.4" width="24" height="43.3" fill="#e03012" stroke="#111" stroke-width="2.2" />
<line x1="1426.7" y1="825.2" x2="1426.7" y2="855.3" stroke="#111" stroke-width="2.2" />
<line x1="1419.2" y1="825.2" x2="1434.2" y2="825.2" stroke="#111" stroke-width="2.2" />
<line x1="1419.2" y1="855.3" x2="1434.2" y2="855.3" stroke="#111" stroke-width="2.2" />
<circle cx="1426.1" cy="822.1" r="4.9" fill="#111" />
<circle cx="1418.5" cy="851.2" r="4.9" fill="#111" />
<circle cx="1434" cy="846.5" r="4.9" fill="#111" />
<circle cx="1453.4" cy="885" r="4.9" fill="#111" />
<circle cx="1460.8" cy="883.5" r="4.9" fill="#111" />
<circle cx="1468.5" cy="885" r="4.9" fill="#111" />
<rect x="1482.9" y="863.7" width="24" height="22" fill="#8c2f2a" stroke="#111" stroke-width="2.2" />
<line x1="1494.9" y1="854.8" x2="1494.9" y2="869" stroke="#111" stroke-width="2.2" />
<line x1="1487.4" y1="854.8" x2="1502.4" y2="854.8" stroke="#111" stroke-width="2.2" />
<line x1="1487.4" y1="869" x2="1502.4" y2="869" stroke="#111" stroke-width="2.2" />
<circle cx="1487.3" cy="853.6" r="4.9" fill="#111" />
<circle cx="1502" cy="863.1" r="4.9" fill="#111" />
<circle cx="1487.3" cy="868.5" r="4.9" fill="#111" />
<rect x="1535.6" y="707.7" width="24" height="178" fill="#2f2f2f" stroke="#111" stroke-width="2.2" />
<line x1="1547.6" y1="667.5" x2="1547.6" y2="741.5" stroke="#111" stroke-width="2.2" />
<line x1="1540.1" y1="667.5" x2="1555.1" y2="667.5" stroke="#111" stroke-width="2.2" />
<line x1="1540.1" y1="741.5" x2="1555.1" y2="741.5" stroke="#111" stroke-width="2.2" />
<circle cx="1540" cy="681.7" r="4.9" fill="#111" />
<circle cx="1555" cy="685.3" r="4.9" fill="#111" />
<circle cx="1547.3" cy="747.6" r="4.9" fill="#111" />
<rect x="1569.7" y="804.9" width="24" height="80.8" fill="#e03012" stroke="#111" stroke-width="2.2" />
<line x1="1581.7" y1="796.7" x2="1581.7" y2="808.6" stroke="#111" stroke-width="2.2" />
<line x1="1574.2" y1="796.7" x2="1589.2" y2="796.7" stroke="#111" stroke-width="2.2" />
<line x1="1574.2" y1="808.6" x2="1589.2" y2="808.6" stroke="#111" stroke-width="2.2" />
<circle cx="1580.9" cy="797.4" r="4.9" fill="#111" />
<circle cx="1588.8" cy="800.3" r="4.9" fill="#111" />
<circle cx="1573.8" cy="808.6" r="4.9" fill="#111" />
<rect x="1603.8" y="596.8" width="24" height="288.9" fill="#979998" stroke="#111" stroke-width="2.2" />
<line x1="1615.8" y1="570.8" x2="1615.8" y2="617.2" stroke="#111" stroke-width="2.2" />
<line x1="1608.3" y1="570.8" x2="1623.3" y2="570.8" stroke="#111" stroke-width="2.2" />
<line x1="1608.3" y1="617.2" x2="1623.3" y2="617.2" stroke="#111" stroke-width="2.2" />
<circle cx="1615.7" cy="573.1" r="4.9" fill="#111" />
<circle cx="1615.7" cy="590.5" r="4.9" fill="#111" />
<circle cx="1615.7" cy="618.9" r="4.9" fill="#111" />
<rect x="1637.9" y="746.8" width="24" height="138.9" fill="#8c2f2a" stroke="#111" stroke-width="2.2" />
<line x1="1649.9" y1="705.4" x2="1649.9" y2="782.5" stroke="#111" stroke-width="2.2" />
<line x1="1642.4" y1="705.4" x2="1657.4" y2="705.4" stroke="#111" stroke-width="2.2" />
<line x1="1642.4" y1="782.5" x2="1657.4" y2="782.5" stroke="#111" stroke-width="2.2" />
<circle cx="1649.4" cy="702.6" r="4.9" fill="#111" />
<circle cx="1649.4" cy="750.5" r="4.9" fill="#111" />
<circle cx="1649.4" cy="778.9" r="4.9" fill="#111" />
<line x1="1051.1" y1="885.7" x2="1683" y2="885.7" stroke="#111" stroke-width="2.2" />
<line x1="1133.1" y1="885.7" x2="1133.1" y2="894.5" stroke="#111" stroke-width="2.2" />
<text x="1133.1" y="922.5" font-size="25.5" text-anchor="middle">SP</text>
<line x1="1288.1" y1="885.7" x2="1288.1" y2="894.5" stroke="#111" stroke-width="2.2" />
<text x="1288.1" y="922.5" font-size="25.5" text-anchor="middle">CM</text>
<line x1="1443.1" y1="885.7" x2="1443.1" y2="894.5" stroke="#111" stroke-width="2.2" />
<text x="1443.1" y="922.5" font-size="25.5" text-anchor="middle">NM</text>
<line x1="1598.1" y1="885.7" x2="1598.1" y2="894.5" stroke="#111" stroke-width="2.2" />
<text x="1598.1" y="922.5" font-size="25.5" text-anchor="middle">M</text>
<text x="1305.86" y="783.32" font-size="33" text-anchor="middle">*</text>
<text x="1417.06" y="824.82" font-size="33" text-anchor="middle">*</text>
<text x="1433.71" y="824.82" font-size="33" text-anchor="middle">*</text>
<text x="1485.56" y="854.42" font-size="33" text-anchor="middle">*</text>
<text x="1502.16" y="854.42" font-size="33" text-anchor="middle">*</text>
<text x="1581.56" y="798.32" font-size="33" text-anchor="middle">*</text>
<text x="1615.76" y="571.12" font-size="33" text-anchor="middle">*</text>
<rect x="1094.8" y="562.6" width="17.2" height="17.2" fill="#2f2f2f" stroke="#111" stroke-width="2.2" />
<text x="1128.5" y="580" font-size="25.2">WT</text>
<rect x="1094.8" y="593.7" width="17.2" height="17.2" fill="#e03012" stroke="#111" stroke-width="2.2" />
<text x="1128.5" y="611.1" font-size="25.2">Δ<tspan font-style="italic">cqd1</tspan></text>
<rect x="1094.8" y="624.8" width="17.2" height="17.2" fill="#979998" stroke="#111" stroke-width="2.2" />
<text x="1128.5" y="642.2" font-size="25.2">Δ<tspan font-style="italic">cqd2</tspan></text>
<rect x="1094.8" y="655.9" width="17.2" height="17.2" fill="#8c2f2a" stroke="#111" stroke-width="2.2" />
<text x="1128.5" y="673.3" font-size="25.2">Δ<tspan font-style="italic">cqd1</tspan>Δ<tspan font-style="italic">cqd2</tspan></text>
<text x="1482.1" y="1042.1" font-size="29.3" text-anchor="middle">Sdh4-GFP</text>
<line x1="1393.9" y1="1054.1" x2="1569.5" y2="1054.1" stroke="#111" stroke-width="3" />
<text x="1409.8" y="1090.9" font-size="29.5" text-anchor="middle">SP</text>
<text x="1459.5" y="1090.9" font-size="29.5" text-anchor="middle">CM</text>
<text x="1508.6" y="1090.9" font-size="29.5" text-anchor="middle">S</text>
<text x="1558" y="1090.9" font-size="29.5" text-anchor="middle">E</text>
<rect x="1385.3" y="1100.9" width="203.1" height="44.3" fill="#e7e7e7" />
<clipPath id="cb0"><rect x="1385.3" y="1100.9" width="203.1" height="44.3"/></clipPath>
<g clip-path="url(#cb0)">
<rect x="1390.5" y="1121.35" width="35" height="6.5" rx="3.25" fill="#111" fill-opacity="0.52" filter="url(#bl1)"/>
<rect x="1442" y="1117.6" width="34.5" height="9" rx="4" fill="#111" fill-opacity="0.97" filter="url(#bl1)"/>
<rect x="1492.5" y="1118.5" width="31" height="6" rx="3" fill="#111" fill-opacity="0.55" filter="url(#bl1)"/>
</g>
<rect x="1385.3" y="1100.9" width="203.1" height="44.3" fill="none" stroke="#111" stroke-width="2.2" />
<line x1="1376.2" y1="1103.8" x2="1385" y2="1103.8" stroke="#111" stroke-width="2" />
<text x="1374.3" y="1112.8" font-size="29" text-anchor="end">80 kDa</text>
<polygon points="1596.4,1120.4 1611.1,1113 1611.1,1127.8" fill="#111"/>
<text x="1618.5" y="1130.4" font-size="29.5">Kar2</text>
<rect x="1385.3" y="1156.7" width="203.1" height="53" fill="#e7e7e7" />
<clipPath id="cb1"><rect x="1385.3" y="1156.7" width="203.1" height="53"/></clipPath>
<g clip-path="url(#cb1)">
<rect x="1393" y="1180.45" width="30.5" height="4.5" rx="2.25" fill="#111" fill-opacity="0.42" filter="url(#bl1)"/>
<rect x="1441" y="1180" width="36.5" height="8" rx="4" fill="#111" fill-opacity="0.82" filter="url(#bl1)"/>
<rect x="1495" y="1181.2" width="33.5" height="8" rx="4" fill="#111" fill-opacity="0.84" filter="url(#bl1)"/>
<rect x="1546.5" y="1187" width="30" height="4" rx="2" fill="#111" fill-opacity="0.05" filter="url(#bl2)"/>
<rect x="1495" y="1161.5" width="33.5" height="18" rx="4" fill="#111" fill-opacity="0.05" filter="url(#bl2)"/>
<rect x="1441.5" y="1201" width="36" height="8" rx="4" fill="#111" fill-opacity="0.04" filter="url(#bl2)"/>
</g>
<rect x="1385.3" y="1156.7" width="203.1" height="53" fill="none" stroke="#111" stroke-width="2.2" />
<line x1="1376.2" y1="1163.9" x2="1385" y2="1163.9" stroke="#111" stroke-width="2" />
<text x="1374.3" y="1172.9" font-size="29" text-anchor="end">80 kDa</text>
<polygon points="1596.4,1188 1611.1,1180.6 1611.1,1195.4" fill="#111"/>
<text x="1618.5" y="1198" font-size="29.5">Tom70</text>
<rect x="1385.3" y="1220.5" width="203.1" height="48.4" fill="#e7e7e7" />
<clipPath id="cb2"><rect x="1385.3" y="1220.5" width="203.1" height="48.4"/></clipPath>
<g clip-path="url(#cb2)">
<rect x="1394" y="1236.45" width="30" height="4.5" rx="2.25" fill="#111" fill-opacity="0.28" filter="url(#bl1)"/>
<rect x="1440" y="1233.7" width="39.5" height="13" rx="4" fill="#111" fill-opacity="0.84" filter="url(#bl1)"/>
<rect x="1494.5" y="1233" width="37" height="12" rx="4" fill="#111" fill-opacity="0.88" filter="url(#bl1)"/>
</g>
<rect x="1385.3" y="1220.5" width="203.1" height="48.4" fill="none" stroke="#111" stroke-width="2.2" />
<line x1="1376.2" y1="1257.7" x2="1385" y2="1257.7" stroke="#111" stroke-width="2" />
<text x="1374.3" y="1266.7" font-size="29" text-anchor="end">30 kDa</text>
<polygon points="1596.4,1238.6 1611.1,1231.2 1611.1,1246" fill="#111"/>
<text x="1618.5" y="1248.6" font-size="29.5">Vdac</text>
<rect x="1385.3" y="1280.4" width="203.1" height="61.5" fill="#e7e7e7" />
<clipPath id="cb3"><rect x="1385.3" y="1280.4" width="203.1" height="61.5"/></clipPath>
<g clip-path="url(#cb3)">
<rect x="1396.5" y="1294.5" width="27" height="8" rx="4" fill="#111" fill-opacity="0.06" filter="url(#bl2)"/>
<rect x="1443.5" y="1294" width="35" height="6" rx="3" fill="#111" fill-opacity="0.09" filter="url(#bl2)"/>
<rect x="1497.5" y="1294.5" width="31" height="5" rx="2.5" fill="#111" fill-opacity="0.09" filter="url(#bl2)"/>
<rect x="1547.5" y="1294.5" width="31" height="5" rx="2.5" fill="#111" fill-opacity="0.09" filter="url(#bl2)"/>
<rect x="1394" y="1316.7" width="30.5" height="4" rx="2" fill="#111" fill-opacity="0.3" filter="url(#bl1)"/>
<rect x="1440.5" y="1314.75" width="40" height="8.5" rx="4" fill="#111" fill-opacity="0.82" filter="url(#bl1)"/>
<rect x="1494.5" y="1315" width="37" height="9" rx="4" fill="#111" fill-opacity="0.92" filter="url(#bl1)"/>
<rect x="1545.5" y="1316" width="36" height="10" rx="4" fill="#111" fill-opacity="0.86" filter="url(#bl1)"/>
<rect x="1441.5" y="1326" width="39" height="6" rx="3" fill="#111" fill-opacity="0.06" filter="url(#bl2)"/>
<rect x="1495.5" y="1327" width="35" height="6" rx="3" fill="#111" fill-opacity="0.07" filter="url(#bl2)"/>
<rect x="1546.5" y="1328" width="34" height="6" rx="3" fill="#111" fill-opacity="0.07" filter="url(#bl2)"/>
</g>
<rect x="1385.3" y="1280.4" width="203.1" height="61.5" fill="none" stroke="#111" stroke-width="2.2" />
<line x1="1376.2" y1="1297.7" x2="1385" y2="1297.7" stroke="#111" stroke-width="2" />
<text x="1374.3" y="1306.7" font-size="29" text-anchor="end">50 kDa</text>
<polygon points="1596.4,1321.1 1611.1,1313.7 1611.1,1328.5" fill="#111"/>
<text x="1618.5" y="1331.1" font-size="29.5">GFP</text>
<rect x="1385.3" y="1353.2" width="203.1" height="70.9" fill="#e7e7e7" />
<clipPath id="cb4"><rect x="1385.3" y="1353.2" width="203.1" height="70.9"/></clipPath>
<g clip-path="url(#cb4)">
<rect x="1400.5" y="1390" width="33" height="20" rx="4" fill="#111" fill-opacity="0.05" filter="url(#bl3)"/>
<rect x="1452.5" y="1383" width="31" height="30" rx="4" fill="#111" fill-opacity="0.3" filter="url(#bl3)"/>
<rect x="1499" y="1374" width="32" height="16" rx="4" fill="#111" fill-opacity="0.95" filter="url(#bl2)"/>
<rect x="1499.5" y="1388" width="31" height="14" rx="4" fill="#111" fill-opacity="0.5" filter="url(#bl3)"/>
<rect x="1499" y="1354.5" width="32" height="4" rx="2" fill="#111" fill-opacity="0.1" filter="url(#bl2)"/>
<rect x="1550.5" y="1379.2" width="31" height="20" rx="4" fill="#111" fill-opacity="0.36" filter="url(#bl3)"/>
</g>
<rect x="1385.3" y="1353.2" width="203.1" height="70.9" fill="none" stroke="#111" stroke-width="2.2" />
<line x1="1376.2" y1="1374" x2="1385" y2="1374" stroke="#111" stroke-width="2" />
<text x="1374.3" y="1383" font-size="29" text-anchor="end">30 kDa</text>
<polygon points="1596.4,1385.7 1611.1,1378.3 1611.1,1393.1" fill="#111"/>
<text x="1618.5" y="1395.7" font-size="29.5">Sdh2</text>
<rect x="1385.3" y="1434.9" width="203.1" height="48.6" fill="#e7e7e7" />
<clipPath id="cb5"><rect x="1385.3" y="1434.9" width="203.1" height="48.6"/></clipPath>
<g clip-path="url(#cb5)">
<rect x="1394" y="1458.8" width="37.5" height="7" rx="3.5" fill="#111" fill-opacity="0.36" filter="url(#bl1)"/>
<rect x="1446" y="1452.7" width="37" height="11" rx="4" fill="#111" fill-opacity="0.82" filter="url(#bl1)"/>
<rect x="1497" y="1452.05" width="34" height="9.5" rx="4" fill="#111" fill-opacity="0.85" filter="url(#bl1)"/>
<rect x="1548.5" y="1453.05" width="32.5" height="3.5" rx="1.75" fill="#111" fill-opacity="0.12" filter="url(#bl1)"/>
</g>
<rect x="1385.3" y="1434.9" width="203.1" height="48.6" fill="none" stroke="#111" stroke-width="2.2" />
<line x1="1376.2" y1="1456.5" x2="1385" y2="1456.5" stroke="#111" stroke-width="2" />
<text x="1374.3" y="1465.5" font-size="29" text-anchor="end">50 kDa</text>
<polygon points="1596.4,1456.5 1611.1,1449.1 1611.1,1463.9" fill="#111"/>
<text x="1618.5" y="1466.5" font-size="29.5">Cit1</text>
<line x1="115.3" y1="1683.5" x2="115.3" y2="2006" stroke="#111" stroke-width="2.2" />
<line x1="106.3" y1="2004.9" x2="115.3" y2="2004.9" stroke="#111" stroke-width="2.2" />
<text x="97" y="2013.6" font-size="22" text-anchor="end">0.0</text>
<line x1="106.3" y1="1924.55" x2="115.3" y2="1924.55" stroke="#111" stroke-width="2.2" />
<text x="97" y="1933.25" font-size="22" text-anchor="end">0.5</text>
<line x1="106.3" y1="1844.2" x2="115.3" y2="1844.2" stroke="#111" stroke-width="2.2" />
<text x="97" y="1852.9" font-size="22" text-anchor="end">1.0</text>
<line x1="106.3" y1="1763.85" x2="115.3" y2="1763.85" stroke="#111" stroke-width="2.2" />
<text x="97" y="1772.55" font-size="22" text-anchor="end">1.5</text>
<line x1="106.3" y1="1683.5" x2="115.3" y2="1683.5" stroke="#111" stroke-width="2.2" />
<text x="97" y="1692.2" font-size="22" text-anchor="end">2.0</text>
<text x="40.6" y="1844.5" font-size="25" text-anchor="middle" transform="rotate(-90 40.6 1844.5)">WT Normalized Peak Area, CoQ<tspan font-size="15.5" dy="8">6</tspan></text>
<rect x="133.2" y="1846.6" width="27.4" height="158.3" fill="#2f2f2f" stroke="#111" stroke-width="2.2" />
<line x1="146.9" y1="1798.7" x2="146.9" y2="1890.8" stroke="#111" stroke-width="2.2" />
<line x1="140.4" y1="1798.7" x2="153.4" y2="1798.7" stroke="#111" stroke-width="2.2" />
<line x1="140.4" y1="1890.8" x2="153.4" y2="1890.8" stroke="#111" stroke-width="2.2" />
<circle cx="146.9" cy="1791.2" r="6.1" fill="#111" />
<circle cx="146.9" cy="1863.9" r="6.1" fill="#111" />
<circle cx="146.9" cy="1878.5" r="6.1" fill="#111" />
<rect x="171.7" y="1851.3" width="27.4" height="153.6" fill="#d32f17" stroke="#111" stroke-width="2.2" />
<line x1="185.4" y1="1825.4" x2="185.4" y2="1873.8" stroke="#111" stroke-width="2.2" />
<line x1="178.9" y1="1825.4" x2="191.9" y2="1825.4" stroke="#111" stroke-width="2.2" />
<line x1="178.9" y1="1873.8" x2="191.9" y2="1873.8" stroke="#111" stroke-width="2.2" />
<circle cx="185.4" cy="1824.2" r="6.1" fill="#111" />
<circle cx="185.4" cy="1851.4" r="6.1" fill="#111" />
<circle cx="185.4" cy="1872.6" r="6.1" fill="#111" />
<rect x="210.2" y="1856" width="27.4" height="148.9" fill="#979998" stroke="#111" stroke-width="2.2" />
<line x1="223.9" y1="1784.5" x2="223.9" y2="1911.6" stroke="#111" stroke-width="2.2" />
<line x1="217.4" y1="1784.5" x2="230.4" y2="1784.5" stroke="#111" stroke-width="2.2" />
<line x1="217.4" y1="1911.6" x2="230.4" y2="1911.6" stroke="#111" stroke-width="2.2" />
<circle cx="223.9" cy="1784.1" r="6.1" fill="#111" />
<circle cx="223.9" cy="1869.1" r="6.1" fill="#111" />
<circle cx="223.9" cy="1909.2" r="6.1" fill="#111" />
<rect x="248.7" y="1865.5" width="27.4" height="139.4" fill="#8c2f2a" stroke="#111" stroke-width="2.2" />
<line x1="262.4" y1="1826.6" x2="262.4" y2="1899.1" stroke="#111" stroke-width="2.2" />
<line x1="255.9" y1="1826.6" x2="268.9" y2="1826.6" stroke="#111" stroke-width="2.2" />
<line x1="255.9" y1="1899.1" x2="268.9" y2="1899.1" stroke="#111" stroke-width="2.2" />
<circle cx="262.4" cy="1824.2" r="6.1" fill="#111" />
<circle cx="262.4" cy="1870.3" r="6.1" fill="#111" />
<circle cx="262.4" cy="1895.1" r="6.1" fill="#111" />
<rect x="308.2" y="1846.5" width="27.4" height="158.4" fill="#2f2f2f" stroke="#111" stroke-width="2.2" />
<line x1="321.9" y1="1798.7" x2="321.9" y2="1890.2" stroke="#111" stroke-width="2.2" />
<line x1="315.4" y1="1798.7" x2="328.4" y2="1798.7" stroke="#111" stroke-width="2.2" />
<line x1="315.4" y1="1890.2" x2="328.4" y2="1890.2" stroke="#111" stroke-width="2.2" />
<circle cx="321.9" cy="1798.1" r="6.1" fill="#111" />
<circle cx="321.9" cy="1846" r="6.1" fill="#111" />
<circle cx="321.9" cy="1890.2" r="6.1" fill="#111" />
<rect x="346.7" y="1899" width="27.4" height="105.9" fill="#d32f17" stroke="#111" stroke-width="2.2" />
<line x1="360.4" y1="1857.3" x2="360.4" y2="1935.4" stroke="#111" stroke-width="2.2" />
<line x1="353.9" y1="1857.3" x2="366.9" y2="1857.3" stroke="#111" stroke-width="2.2" />
<line x1="353.9" y1="1935.4" x2="366.9" y2="1935.4" stroke="#111" stroke-width="2.2" />
<circle cx="360.4" cy="1855.1" r="6.1" fill="#111" />
<circle cx="360.4" cy="1904" r="6.1" fill="#111" />
<circle cx="360.4" cy="1931.4" r="6.1" fill="#111" />
<rect x="385.2" y="1837.9" width="27.4" height="167" fill="#979998" stroke="#111" stroke-width="2.2" />
<line x1="398.9" y1="1788" x2="398.9" y2="1890.2" stroke="#111" stroke-width="2.2" />
<line x1="392.4" y1="1788" x2="405.4" y2="1788" stroke="#111" stroke-width="2.2" />
<line x1="392.4" y1="1890.2" x2="405.4" y2="1890.2" stroke="#111" stroke-width="2.2" />
<circle cx="398.9" cy="1794.7" r="6.1" fill="#111" />
<circle cx="398.9" cy="1824.6" r="6.1" fill="#111" />
<circle cx="398.9" cy="1890.2" r="6.1" fill="#111" />
<rect x="423.7" y="1897.4" width="27.4" height="107.5" fill="#8c2f2a" stroke="#111" stroke-width="2.2" />
<line x1="437.4" y1="1865.8" x2="437.4" y2="1925.3" stroke="#111" stroke-width="2.2" />
<line x1="430.9" y1="1865.8" x2="443.9" y2="1865.8" stroke="#111" stroke-width="2.2" />
<line x1="430.9" y1="1925.3" x2="443.9" y2="1925.3" stroke="#111" stroke-width="2.2" />
<circle cx="437.4" cy="1866.4" r="6.1" fill="#111" />
<circle cx="437.4" cy="1891.8" r="6.1" fill="#111" />
<circle cx="437.4" cy="1926.9" r="6.1" fill="#111" />
<rect x="483.2" y="1846.5" width="27.4" height="158.4" fill="#2f2f2f" stroke="#111" stroke-width="2.2" />
<line x1="496.9" y1="1832.3" x2="496.9" y2="1856.7" stroke="#111" stroke-width="2.2" />
<line x1="490.4" y1="1832.3" x2="503.4" y2="1832.3" stroke="#111" stroke-width="2.2" />
<line x1="490.4" y1="1856.7" x2="503.4" y2="1856.7" stroke="#111" stroke-width="2.2" />
<circle cx="496.9" cy="1829.8" r="6.1" fill="#111" />
<circle cx="488.2" cy="1853.6" r="6.1" fill="#111" />
<circle cx="506.5" cy="1849" r="6.1" fill="#111" />
<rect x="521.7" y="1919.7" width="27.4" height="85.2" fill="#d32f17" stroke="#111" stroke-width="2.2" />
<line x1="535.4" y1="1903" x2="535.4" y2="1931.4" stroke="#111" stroke-width="2.2" />
<line x1="528.9" y1="1903" x2="541.9" y2="1903" stroke="#111" stroke-width="2.2" />
<line x1="528.9" y1="1931.4" x2="541.9" y2="1931.4" stroke="#111" stroke-width="2.2" />
<circle cx="535.2" cy="1901.8" r="6.1" fill="#111" />
<circle cx="526.1" cy="1929.3" r="6.1" fill="#111" />
<circle cx="545.3" cy="1921.4" r="6.1" fill="#111" />
<rect x="560.2" y="1775.4" width="27.4" height="229.5" fill="#979998" stroke="#111" stroke-width="2.2" />
<line x1="573.9" y1="1748.3" x2="573.9" y2="1801.7" stroke="#111" stroke-width="2.2" />
<line x1="567.4" y1="1748.3" x2="580.4" y2="1748.3" stroke="#111" stroke-width="2.2" />
<line x1="567.4" y1="1801.7" x2="580.4" y2="1801.7" stroke="#111" stroke-width="2.2" />
<circle cx="564.1" cy="1756" r="6.1" fill="#111" />
<circle cx="583" cy="1762.7" r="6.1" fill="#111" />
<circle cx="573.9" cy="1801.1" r="6.1" fill="#111" />
<rect x="598.7" y="1856.2" width="27.4" height="148.7" fill="#8c2f2a" stroke="#111" stroke-width="2.2" />
<line x1="612.4" y1="1816.1" x2="612.4" y2="1893.3" stroke="#111" stroke-width="2.2" />
<line x1="605.9" y1="1816.1" x2="618.9" y2="1816.1" stroke="#111" stroke-width="2.2" />
<line x1="605.9" y1="1893.3" x2="618.9" y2="1893.3" stroke="#111" stroke-width="2.2" />
<circle cx="612.4" cy="1809.4" r="6.1" fill="#111" />
<circle cx="602.7" cy="1877.4" r="6.1" fill="#111" />
<circle cx="621" cy="1875" r="6.1" fill="#111" />
<line x1="114.2" y1="2004.9" x2="645.4" y2="2004.9" stroke="#111" stroke-width="2.2" />
<line x1="203.8" y1="2004.9" x2="203.8" y2="2014" stroke="#111" stroke-width="2.2" />
<text x="203.8" y="2044.5" font-size="27" text-anchor="middle">SP</text>
<line x1="378.8" y1="2004.9" x2="378.8" y2="2014" stroke="#111" stroke-width="2.2" />
<text x="378.8" y="2044.5" font-size="27" text-anchor="middle">CM</text>
<line x1="553.8" y1="2004.9" x2="553.8" y2="2014" stroke="#111" stroke-width="2.2" />
<text x="553.8" y="2044.5" font-size="27" text-anchor="middle">IMM patch</text>
<text x="573.51" y="1750.93" font-size="46" text-anchor="middle">*</text>
<text x="524.91" y="1904.53" font-size="46" text-anchor="middle">*</text>
<text x="546.51" y="1904.53" font-size="46" text-anchor="middle">*</text>
<text x="212" y="1669" font-size="25">Sdh4-GFP:</text>
<rect x="214.1" y="1684.7" width="18.2" height="17.4" fill="#2f2f2f" stroke="#111" stroke-width="2.2" />
<text x="249.6" y="1701" font-size="25">WT</text>
<rect x="214.1" y="1715.9" width="18.2" height="17.4" fill="#d32f17" stroke="#111" stroke-width="2.2" />
<text x="249.6" y="1731.5" font-size="25">Δ<tspan font-style="italic">cqd1</tspan></text>
<rect x="338.9" y="1684.7" width="18.2" height="17.4" fill="#979998" stroke="#111" stroke-width="2.2" />
<text x="373.2" y="1701" font-size="25">Δ<tspan font-style="italic">cqd2</tspan></text>
<rect x="338.9" y="1715.9" width="18.2" height="17.4" fill="#8c2f2a" stroke="#111" stroke-width="2.2" />
<text x="373.2" y="1731.5" font-size="25">Δ<tspan font-style="italic">cqd1</tspan>Δ<tspan font-style="italic">cqd2</tspan></text>
<path d="M19,1238 C19,1233 30,1229 42,1224 C60,1216 85,1208 112,1205 C125,1203.5 138,1202.5 141,1203.5 C145,1205 144,1208.5 140,1209.5 C134,1210.5 130,1210.8 128,1211.2 C140,1211 165,1211.2 176,1212.2 C181,1213 181,1218 177,1219.5 C165,1220.5 140,1222 118,1225 C95,1228 70,1234 52,1242 C44,1246 40,1250.5 35,1251 C31,1251 31,1247 33,1245.5 C30,1244 26,1242.5 24,1241.5 C22,1242 19,1241 19,1238 Z" fill="#6c6c6c" transform="translate(0,4.5)"/>
<path d="M19,1238 C19,1233 30,1229 42,1224 C60,1216 85,1208 112,1205 C125,1203.5 138,1202.5 141,1203.5 C145,1205 144,1208.5 140,1209.5 C134,1210.5 130,1210.8 128,1211.2 C140,1211 165,1211.2 176,1212.2 C181,1213 181,1218 177,1219.5 C165,1220.5 140,1222 118,1225 C95,1228 70,1234 52,1242 C44,1246 40,1250.5 35,1251 C31,1251 31,1247 33,1245.5 C30,1244 26,1242.5 24,1241.5 C22,1242 19,1241 19,1238 Z" fill="#a9a9a9"/>
<ellipse cx="88" cy="1222.5" rx="36" ry="3.2" fill="#6c6c6c" transform="rotate(-9 88 1222.5)"/>
<ellipse cx="154" cy="1215.8" rx="17" ry="2.6" fill="#6c6c6c" transform="rotate(-2 154 1215.8)"/>
<path d="M50,1252 A104.2,71 0 0 0 258.4,1252 Z" fill="url(#bowl)" />
<ellipse cx="154.2" cy="1251.4" rx="104.2" ry="24" fill="#b51a3c"/>
<ellipse cx="154.5" cy="1251.6" rx="95" ry="20.7" fill="#5e0818"/>
<clipPath id="inner"><ellipse cx="154.5" cy="1251.6" rx="95" ry="20.7"/></clipPath>
<g clip-path="url(#inner)">
<path d="M68,1228 L242,1228 L242,1278 L68,1278 Z" fill="#eda3bb" />
<path d="M71.5,1257.3 L72.6,1253.2 L76.7,1251.4 L80.6,1251.5 L83.8,1253.8 L85.8,1257.3 L87.9,1260.6 L90.2,1261.9 L92.3,1261.9 L92.6,1247.4 L95.5,1243.8 L101.4,1242.1 L108.4,1242.4 L113.7,1244.7 L117.8,1248.5 L121.3,1252.6 L124.3,1255 L126.3,1255.6 L127.2,1245.6 L128.1,1240.9 L131.3,1237.4 L138.4,1235.9 L150.1,1235.3 L156.5,1235.5 L160.1,1237.7 L161.8,1243.3 L165,1247.4 L168,1249 L172,1248.5 L172.8,1242 L175,1238.5 L182,1236.6 L195,1236.4 L203,1237.5 L207,1241 L210,1245.5 L213.5,1248.2 L216,1248 L216.5,1243 L219,1240 L226,1239.3 L234,1240.5 L238,1245 L238.5,1252 L238.5,1262 L250,1262 L250,1225 L66,1225 L66,1262 L71.5,1262 Z" fill="#5e0818" />
<path d="M92.3,1261.9 L92.6,1247.4 L95.8,1254 L99.3,1258.5 L100.2,1261.5 Z" fill="#d67c9e" />
<path d="M126.3,1255.6 L127.2,1245.6 L132,1250 L138,1255 L140,1257.5 L135,1258.5 Z" fill="#d67c9e" />
<path d="M168,1249 L172.8,1242 L176,1246 L180,1250 L176,1251 Z" fill="#d67c9e" />
<path d="M213.5,1248.2 L216.5,1243 L219,1246 L222,1249 L218,1250 Z" fill="#d67c9e" />
<path d="M108.7,1258.5 L111.4,1255.9 L116.6,1255.3 L121.3,1257.3 L124.3,1261.5 L126,1266.1 L126.6,1272 L109.6,1272 L111.9,1266.7 L109.6,1262.6 Z" fill="#a95c83" />
<path d="M143,1247.4 L147.2,1246.8 L153,1249.1 L158.9,1252.6 L165,1255.6 L170,1262 L172,1272 L158,1272 L156.8,1267.9 L153,1262 L148.3,1255.6 L144.2,1250.9 Z" fill="#a95c83" />
<path d="M184,1251 L195,1250 L205,1253 L210,1258 L212,1266 L212,1272 L200,1272 L196,1264 L190,1257 Z" fill="#a95c83" />
<path d="M71,1262 L90,1265.5 L110,1268 L130,1270.3 L150,1270.3 L170,1269 L190,1267.5 L210,1265 L225,1262.5 L239,1259 L239,1280 L71,1280 Z" fill="url(#cw)" />
</g>
<rect x="268.4" y="1204.9" width="33.9" height="17.1" fill="none" stroke="#1f6fa0" stroke-width="4.6" rx="8.55"/>
<rect x="268.4" y="1230.4" width="33.9" height="17.2" fill="none" stroke="#1f6fa0" stroke-width="4.6" rx="8.6"/>
<line x1="311" y1="1226.5" x2="326.8" y2="1226.5" stroke="#111" stroke-width="2.4" />
<polygon points="325.8,1222.3 325.8,1230.7 339.8,1226.5" fill="#111"/>
<rect x="345.6" y="1213.7" width="34.2" height="17.7" fill="none" stroke="#1f6fa0" stroke-width="4.6" rx="8.85"/>
<rect x="367.9" y="1222.5" width="33.6" height="17.7" fill="none" stroke="#1f6fa0" stroke-width="4.6" rx="8.85"/>
<rect x="390.2" y="1213.7" width="34.2" height="17.7" fill="none" stroke="#1f6fa0" stroke-width="4.6" rx="8.85"/>
<rect x="413.1" y="1222.5" width="33.6" height="17.7" fill="none" stroke="#1f6fa0" stroke-width="4.6" rx="8.85"/>
<line x1="285.8" y1="1264.2" x2="401.3" y2="1264.2" stroke="#111" stroke-width="3" />
<polygon points="400.3,1258.2 400.3,1270.2 422,1264.2" fill="#111"/>
<line x1="786.8" y1="1264.2" x2="887.2" y2="1264.2" stroke="#111" stroke-width="3" />
<polygon points="886.2,1258.2 886.2,1270.2 907.9,1264.2" fill="#111"/>
<text x="356.4" y="1313.7" font-size="31.5" text-anchor="middle">SMA</text>
<text x="356.4" y="1345.3" font-size="31.5" text-anchor="middle">treatment</text>
<text x="845.9" y="1313.8" font-size="31.5" text-anchor="middle">Affinity</text>
<text x="846.4" y="1345.4" font-size="31.5" text-anchor="middle">enrichment</text>
<text x="2.2" y="1422.3" font-size="31.5">Crude mitochondria</text>
<text x="447.6" y="1421.9" font-size="31.5">Solubilized components</text>
<text x="928.5" y="1421.4" font-size="31.5"><tspan font-weight="bold" fill="#f0a3bf">IMM</tspan>/Sdh4-SMALP</text>
<circle cx="490.2" cy="1175" r="14.4" fill="#808080" />
<circle cx="481.3" cy="1227.2" r="14.4" fill="#aaaaaa" />
<circle cx="634.8" cy="1195.6" r="14.4" fill="#808080" />
<rect x="521" y="1174.4" width="23" height="19.6" fill="#808080" rx="5"/>
<rect x="559" y="1148.1" width="25.7" height="19.8" fill="#aaaaaa" rx="6"/>
<rect x="626.1" y="1146.7" width="25.7" height="20.1" fill="#aaaaaa" rx="6"/>
<path d="M519.4,1229.4 L519.4,1267.6 A58.5,13.3 0 0 0 636.4,1267.6 L636.4,1229.4 Z" fill="#9c1230" />
<path d="M518.5,1238.8 A59.4,12.1 0 0 0 637.3,1238.8" fill="none" stroke="#17679a" stroke-width="6.6" stroke-linecap="round"/>
<path d="M518.5,1238.8 A59.4,12.1 0 0 0 637.3,1238.8" fill="none" stroke="#4ea2cf" stroke-width="2.6" stroke-opacity="0.75" stroke-linecap="round" filter="url(#rb)"/>
<path d="M518.5,1248.2 A59.4,12.1 0 0 0 637.3,1248.2" fill="none" stroke="#17679a" stroke-width="6.6" stroke-linecap="round"/>
<path d="M518.5,1248.2 A59.4,12.1 0 0 0 637.3,1248.2" fill="none" stroke="#4ea2cf" stroke-width="2.6" stroke-opacity="0.75" stroke-linecap="round" filter="url(#rb)"/>
<path d="M518.5,1257.4 A59.4,12.1 0 0 0 637.3,1257.4" fill="none" stroke="#17679a" stroke-width="6.6" stroke-linecap="round"/>
<path d="M518.5,1257.4 A59.4,12.1 0 0 0 637.3,1257.4" fill="none" stroke="#4ea2cf" stroke-width="2.6" stroke-opacity="0.75" stroke-linecap="round" filter="url(#rb)"/>
<ellipse cx="577.9" cy="1229.4" rx="58.5" ry="13.3" fill="#c41b3f"/>
<path d="M546.7,1208 L546.7,1224 A30.2,8 0 0 0 607.1,1224 L607.1,1208 Z" fill="#828282" />
<ellipse cx="576.9" cy="1208" rx="30.2" ry="8" fill="#aaaaaa"/>
<path d="M705.5,1210 L705.5,1198 L694,1186" fill="none" stroke="#9a9a9a" stroke-width="6" stroke-linejoin="round"/>
<g transform="rotate(-33 688.5 1168.5)">
<path d="M671.5,1153.5 L671.5,1183.5 A17,6 0 0 0 705.5,1183.5 L705.5,1153.5 Z" fill="#3c8a02" />
<ellipse cx="688.5" cy="1153.5" rx="17" ry="6" fill="#78b000"/>
</g>
<path d="M645.2,1229.4 L645.2,1266.9 A59,13.3 0 0 0 763.2,1266.9 L763.2,1229.4 Z" fill="#d57a9b" />
<path d="M644.3,1238.8 A59.9,12.1 0 0 0 764.1,1238.8" fill="none" stroke="#17679a" stroke-width="6.6" stroke-linecap="round"/>
<path d="M644.3,1238.8 A59.9,12.1 0 0 0 764.1,1238.8" fill="none" stroke="#4ea2cf" stroke-width="2.6" stroke-opacity="0.75" stroke-linecap="round" filter="url(#rb)"/>
<path d="M644.3,1248.2 A59.9,12.1 0 0 0 764.1,1248.2" fill="none" stroke="#17679a" stroke-width="6.6" stroke-linecap="round"/>
<path d="M644.3,1248.2 A59.9,12.1 0 0 0 764.1,1248.2" fill="none" stroke="#4ea2cf" stroke-width="2.6" stroke-opacity="0.75" stroke-linecap="round" filter="url(#rb)"/>
<path d="M644.3,1257.4 A59.9,12.1 0 0 0 764.1,1257.4" fill="none" stroke="#17679a" stroke-width="6.6" stroke-linecap="round"/>
<path d="M644.3,1257.4 A59.9,12.1 0 0 0 764.1,1257.4" fill="none" stroke="#4ea2cf" stroke-width="2.6" stroke-opacity="0.75" stroke-linecap="round" filter="url(#rb)"/>
<ellipse cx="704.2" cy="1229.4" rx="59" ry="13.3" fill="#eda2ba"/>
<path d="M676,1210 L676,1226 A30.5,8 0 0 0 737,1226 L737,1210 Z" fill="#828282" />
<ellipse cx="706.5" cy="1210" rx="30.5" ry="8" fill="#aaaaaa"/>
<path d="M705.5,1210 L705.5,1198 L694,1186" fill="none" stroke="#9a9a9a" stroke-width="6" stroke-linejoin="round"/>
<path d="M462.6,1279.1 L462.6,1318.3 A59,13.3 0 0 0 580.6,1318.3 L580.6,1279.1 Z" fill="#858585" />
<path d="M461.7,1288.5 A59.9,12.1 0 0 0 581.5,1288.5" fill="none" stroke="#17679a" stroke-width="6.6" stroke-linecap="round"/>
<path d="M461.7,1288.5 A59.9,12.1 0 0 0 581.5,1288.5" fill="none" stroke="#4ea2cf" stroke-width="2.6" stroke-opacity="0.75" stroke-linecap="round" filter="url(#rb)"/>
<path d="M461.7,1297.9 A59.9,12.1 0 0 0 581.5,1297.9" fill="none" stroke="#17679a" stroke-width="6.6" stroke-linecap="round"/>
<path d="M461.7,1297.9 A59.9,12.1 0 0 0 581.5,1297.9" fill="none" stroke="#4ea2cf" stroke-width="2.6" stroke-opacity="0.75" stroke-linecap="round" filter="url(#rb)"/>
<path d="M461.7,1307.1 A59.9,12.1 0 0 0 581.5,1307.1" fill="none" stroke="#17679a" stroke-width="6.6" stroke-linecap="round"/>
<path d="M461.7,1307.1 A59.9,12.1 0 0 0 581.5,1307.1" fill="none" stroke="#4ea2cf" stroke-width="2.6" stroke-opacity="0.75" stroke-linecap="round" filter="url(#rb)"/>
<ellipse cx="521.6" cy="1279.1" rx="59" ry="13.3" fill="#aaaaaa"/>
<path d="M591.5,1279.1 L591.5,1318.3 A59,13.3 0 0 0 709.5,1318.3 L709.5,1279.1 Z" fill="#d57a9b" />
<path d="M590.6,1288.5 A59.9,12.1 0 0 0 710.4,1288.5" fill="none" stroke="#17679a" stroke-width="6.6" stroke-linecap="round"/>
<path d="M590.6,1288.5 A59.9,12.1 0 0 0 710.4,1288.5" fill="none" stroke="#4ea2cf" stroke-width="2.6" stroke-opacity="0.75" stroke-linecap="round" filter="url(#rb)"/>
<path d="M590.6,1297.9 A59.9,12.1 0 0 0 710.4,1297.9" fill="none" stroke="#17679a" stroke-width="6.6" stroke-linecap="round"/>
<path d="M590.6,1297.9 A59.9,12.1 0 0 0 710.4,1297.9" fill="none" stroke="#4ea2cf" stroke-width="2.6" stroke-opacity="0.75" stroke-linecap="round" filter="url(#rb)"/>
<path d="M590.6,1307.1 A59.9,12.1 0 0 0 710.4,1307.1" fill="none" stroke="#17679a" stroke-width="6.6" stroke-linecap="round"/>
<path d="M590.6,1307.1 A59.9,12.1 0 0 0 710.4,1307.1" fill="none" stroke="#4ea2cf" stroke-width="2.6" stroke-opacity="0.75" stroke-linecap="round" filter="url(#rb)"/>
<ellipse cx="650.5" cy="1279.1" rx="59" ry="13.3" fill="#eda2ba"/>
<path d="M996.5,1234.7 L996.5,1271.7 A58.7,13.3 0 0 0 1113.9,1271.7 L1113.9,1234.7 Z" fill="#d57a9b" />
<path d="M995.6,1244.1 A59.6,12.1 0 0 0 1114.8,1244.1" fill="none" stroke="#17679a" stroke-width="6.6" stroke-linecap="round"/>
<path d="M995.6,1244.1 A59.6,12.1 0 0 0 1114.8,1244.1" fill="none" stroke="#4ea2cf" stroke-width="2.6" stroke-opacity="0.75" stroke-linecap="round" filter="url(#rb)"/>
<path d="M995.6,1253.5 A59.6,12.1 0 0 0 1114.8,1253.5" fill="none" stroke="#17679a" stroke-width="6.6" stroke-linecap="round"/>
<path d="M995.6,1253.5 A59.6,12.1 0 0 0 1114.8,1253.5" fill="none" stroke="#4ea2cf" stroke-width="2.6" stroke-opacity="0.75" stroke-linecap="round" filter="url(#rb)"/>
<path d="M995.6,1262.7 A59.6,12.1 0 0 0 1114.8,1262.7" fill="none" stroke="#17679a" stroke-width="6.6" stroke-linecap="round"/>
<path d="M995.6,1262.7 A59.6,12.1 0 0 0 1114.8,1262.7" fill="none" stroke="#4ea2cf" stroke-width="2.6" stroke-opacity="0.75" stroke-linecap="round" filter="url(#rb)"/>
<ellipse cx="1055.2" cy="1234.7" rx="58.7" ry="13.3" fill="#eda2ba"/>
<path d="M1024.8,1214.8 L1024.8,1228.8 A30.7,8 0 0 0 1086.2,1228.8 L1086.2,1214.8 Z" fill="#828282" />
<ellipse cx="1055.5" cy="1214.8" rx="30.7" ry="8" fill="#aaaaaa"/>
<path d="M1055.5,1214 L1055.5,1202 L1044,1190" fill="none" stroke="#9a9a9a" stroke-width="6" stroke-linejoin="round"/>
<g transform="rotate(-33 1040.3 1172.1)">
<path d="M1023.3,1157.1 L1023.3,1187.1 A17,6 0 0 0 1057.3,1187.1 L1057.3,1157.1 Z" fill="#3c8a02" />
<ellipse cx="1040.3" cy="1157.1" rx="17" ry="6" fill="#78b000"/>
</g>
<path d="M928.1,1261.5 L928.1,1299.7 A59.5,13.3 0 0 0 1047.1,1299.7 L1047.1,1261.5 Z" fill="#d57a9b" />
<path d="M927.2,1270.9 A60.4,12.1 0 0 0 1048,1270.9" fill="none" stroke="#17679a" stroke-width="6.6" stroke-linecap="round"/>
<path d="M927.2,1270.9 A60.4,12.1 0 0 0 1048,1270.9" fill="none" stroke="#4ea2cf" stroke-width="2.6" stroke-opacity="0.75" stroke-linecap="round" filter="url(#rb)"/>
<path d="M927.2,1280.3 A60.4,12.1 0 0 0 1048,1280.3" fill="none" stroke="#17679a" stroke-width="6.6" stroke-linecap="round"/>
<path d="M927.2,1280.3 A60.4,12.1 0 0 0 1048,1280.3" fill="none" stroke="#4ea2cf" stroke-width="2.6" stroke-opacity="0.75" stroke-linecap="round" filter="url(#rb)"/>
<path d="M927.2,1289.5 A60.4,12.1 0 0 0 1048,1289.5" fill="none" stroke="#17679a" stroke-width="6.6" stroke-linecap="round"/>
<path d="M927.2,1289.5 A60.4,12.1 0 0 0 1048,1289.5" fill="none" stroke="#4ea2cf" stroke-width="2.6" stroke-opacity="0.75" stroke-linecap="round" filter="url(#rb)"/>
<ellipse cx="987.6" cy="1261.5" rx="59.5" ry="13.3" fill="#eda2ba"/>
<path d="M957.2,1242.1 L957.2,1258.1 A30.3,8 0 0 0 1017.8,1258.1 L1017.8,1242.1 Z" fill="#828282" />
<ellipse cx="987.5" cy="1242.1" rx="30.3" ry="8" fill="#aaaaaa"/>
<path d="M987.5,1242 L987.5,1230 L976,1218" fill="none" stroke="#9a9a9a" stroke-width="6" stroke-linejoin="round"/>
<g transform="rotate(-33 972.7 1200.3)">
<path d="M955.7,1185.3 L955.7,1215.3 A17,6 0 0 0 989.7,1215.3 L989.7,1185.3 Z" fill="#3c8a02" />
<ellipse cx="972.7" cy="1185.3" rx="17" ry="6" fill="#78b000"/>
</g>
<path d="M1070.4,1261.5 L1070.4,1299.7 A59.5,13.3 0 0 0 1189.4,1299.7 L1189.4,1261.5 Z" fill="#d57a9b" />
<path d="M1069.5,1270.9 A60.4,12.1 0 0 0 1190.3,1270.9" fill="none" stroke="#17679a" stroke-width="6.6" stroke-linecap="round"/>
<path d="M1069.5,1270.9 A60.4,12.1 0 0 0 1190.3,1270.9" fill="none" stroke="#4ea2cf" stroke-width="2.6" stroke-opacity="0.75" stroke-linecap="round" filter="url(#rb)"/>
<path d="M1069.5,1280.3 A60.4,12.1 0 0 0 1190.3,1280.3" fill="none" stroke="#17679a" stroke-width="6.6" stroke-linecap="round"/>
<path d="M1069.5,1280.3 A60.4,12.1 0 0 0 1190.3,1280.3" fill="none" stroke="#4ea2cf" stroke-width="2.6" stroke-opacity="0.75" stroke-linecap="round" filter="url(#rb)"/>
<path d="M1069.5,1289.5 A60.4,12.1 0 0 0 1190.3,1289.5" fill="none" stroke="#17679a" stroke-width="6.6" stroke-linecap="round"/>
<path d="M1069.5,1289.5 A60.4,12.1 0 0 0 1190.3,1289.5" fill="none" stroke="#4ea2cf" stroke-width="2.6" stroke-opacity="0.75" stroke-linecap="round" filter="url(#rb)"/>
<ellipse cx="1129.9" cy="1261.5" rx="59.5" ry="13.3" fill="#eda2ba"/>
<path d="M1099.4,1242.1 L1099.4,1258.1 A30.3,8 0 0 0 1160,1258.1 L1160,1242.1 Z" fill="#828282" />
<ellipse cx="1129.7" cy="1242.1" rx="30.3" ry="8" fill="#aaaaaa"/>
<path d="M1129.7,1242 L1129.7,1230 L1118,1218" fill="none" stroke="#9a9a9a" stroke-width="6" stroke-linejoin="round"/>
<g transform="rotate(-33 1114.4 1200.3)">
<path d="M1097.4,1185.3 L1097.4,1215.3 A17,6 0 0 0 1131.4,1215.3 L1131.4,1185.3 Z" fill="#3c8a02" />
<ellipse cx="1114.4" cy="1185.3" rx="17" ry="6" fill="#78b000"/>
</g>
<rect x="798.3" y="1934.5" width="744.4" height="69.8" fill="#f9f9fb" />
<rect x="798.3" y="1676.3" width="744.4" height="45" fill="#efedf0" />
<rect x="798.3" y="1875.8" width="744.4" height="45.7" fill="#efedf0" />
<rect x="798.3" y="2017.4" width="744.4" height="45.7" fill="#efedf0" />
<line x1="797.5" y1="1669.8" x2="1049" y2="1669.8" stroke="#b6b1af" stroke-width="13.2" stroke-linecap="round"/>
<line x1="1050" y1="1669.8" x2="1291" y2="1669.8" stroke="#c0c0c0" stroke-width="13.2"/>
<line x1="1292" y1="1669.8" x2="1543.2" y2="1669.8" stroke="#b4b4b4" stroke-width="13.2" stroke-linecap="round"/>
<line x1="797.5" y1="1727.8" x2="1049" y2="1727.8" stroke="#b6b1af" stroke-width="13.2" stroke-linecap="round"/>
<line x1="1050" y1="1727.8" x2="1291" y2="1727.8" stroke="#c0c0c0" stroke-width="13.2"/>
<line x1="1292" y1="1727.8" x2="1543.2" y2="1727.8" stroke="#b4b4b4" stroke-width="13.2" stroke-linecap="round"/>
<line x1="797.5" y1="1869.3" x2="1049" y2="1869.3" stroke="#b6b1af" stroke-width="13.2" stroke-linecap="round"/>
<line x1="1050" y1="1869.3" x2="1291" y2="1869.3" stroke="#c0c0c0" stroke-width="13.2"/>
<line x1="1292" y1="1869.3" x2="1543.2" y2="1869.3" stroke="#b4b4b4" stroke-width="13.2" stroke-linecap="round"/>
<line x1="797.5" y1="1928" x2="1049" y2="1928" stroke="#b6b1af" stroke-width="13.2" stroke-linecap="round"/>
<line x1="1050" y1="1928" x2="1291" y2="1928" stroke="#c0c0c0" stroke-width="13.2"/>
<line x1="1292" y1="1928" x2="1543.2" y2="1928" stroke="#b4b4b4" stroke-width="13.2" stroke-linecap="round"/>
<line x1="797.5" y1="2010.9" x2="1049" y2="2010.9" stroke="#b6b1af" stroke-width="13.2" stroke-linecap="round"/>
<line x1="1050" y1="2010.9" x2="1291" y2="2010.9" stroke="#c0c0c0" stroke-width="13.2"/>
<line x1="1292" y1="2010.9" x2="1543.2" y2="2010.9" stroke="#b4b4b4" stroke-width="13.2" stroke-linecap="round"/>
<line x1="797.5" y1="2069.6" x2="1049" y2="2069.6" stroke="#b6b1af" stroke-width="13.2" stroke-linecap="round"/>
<line x1="1050" y1="2069.6" x2="1291" y2="2069.6" stroke="#c0c0c0" stroke-width="13.2"/>
<line x1="1292" y1="2069.6" x2="1543.2" y2="2069.6" stroke="#b4b4b4" stroke-width="13.2" stroke-linecap="round"/>
<line x1="1049.8" y1="1557" x2="1049.8" y2="2147" stroke="#111" stroke-width="2.2" />
<line x1="1291.4" y1="1557" x2="1291.4" y2="2147" stroke="#111" stroke-width="2.2" />
<text x="925.9" y="1598.1" font-size="30.5" text-anchor="middle" font-weight="bold">Δ<tspan font-style="italic">cqd2</tspan></text>
<text x="1170.5" y="1598.5" font-size="31.6" text-anchor="middle" font-weight="bold">WT or DKO</text>
<text x="1416.8" y="1598.5" font-size="30.5" text-anchor="middle" font-weight="bold">Δ<tspan font-style="italic">cqd1</tspan></text>
<text x="925.1" y="1649.2" font-size="26.8" text-anchor="middle" fill="#9b1b22">PUFA sensitive</text>
<text x="1416.4" y="1649.1" font-size="26.8" text-anchor="middle" fill="#2d2d9c">PUFA resistant</text>
<text x="792.2" y="1707.8" font-size="27" text-anchor="end">EMM</text>
<text x="792.2" y="1907.5" font-size="27" text-anchor="end">OMM</text>
<text x="792.2" y="2048.9" font-size="27" text-anchor="end">IMM</text>
<text x="976.8" y="1706.7" font-size="22.5" text-anchor="middle" font-weight="bold" fill="#248a4c">Less CoQ?</text>
<text x="1170.6" y="1706.8" font-size="22.5" text-anchor="middle" font-weight="bold" fill="#248a4c">CoQ</text>
<text x="1358.2" y="1706.8" font-size="22.5" text-anchor="middle" font-weight="bold" fill="#248a4c">More CoQ</text>
<text x="977.3" y="1907.5" font-size="22.5" text-anchor="middle" font-weight="bold" fill="#248a4c">?</text>
<text x="1170.6" y="1907.5" font-size="22.5" text-anchor="middle" font-weight="bold" fill="#248a4c">CoQ</text>
<text x="1357.6" y="1907.5" font-size="22.5" text-anchor="middle" font-weight="bold" fill="#248a4c">?</text>
<text x="977.3" y="2048.9" font-size="22.5" text-anchor="middle" font-weight="bold" fill="#248a4c">More CoQ</text>
<text x="1170.6" y="2048.9" font-size="22.5" text-anchor="middle" font-weight="bold" fill="#248a4c">CoQ</text>
<text x="1358.2" y="2048.5" font-size="22.5" text-anchor="middle" font-weight="bold" fill="#248a4c">Less CoQ</text>
<line x1="915.7" y1="1743.5" x2="915.7" y2="1766.8" stroke="#111" stroke-width="3.6" />
<line x1="934.2" y1="1766.8" x2="934.2" y2="1759.4" stroke="#999" stroke-width="3.2" />
<polygon points="928.2,1760.4 940.2,1760.4 934.2,1739.4" fill="#999"/>
<text x="925.4" y="1794.8" font-size="26.8" text-anchor="middle">Insufficient</text>
<text x="925.4" y="1821.8" font-size="26.8" text-anchor="middle">CoQ export</text>
<line x1="915.7" y1="1830.6" x2="915.7" y2="1838.3" stroke="#111" stroke-width="3.6" />
<polygon points="909.7,1837.3 921.7,1837.3 915.7,1858.3" fill="#111"/>
<line x1="934.2" y1="1830.6" x2="934.2" y2="1853.5" stroke="#999" stroke-width="3.2" />
<line x1="1156.3" y1="1749.8" x2="1156.3" y2="1831.5" stroke="#111" stroke-width="3.4" />
<polygon points="1149.7,1830.5 1162.9,1830.5 1156.3,1851" fill="#111"/>
<line x1="1174.5" y1="1846.6" x2="1174.5" y2="1766.4" stroke="#111" stroke-width="3.4" />
<polygon points="1167.9,1767.4 1181.1,1767.4 1174.5,1746.9" fill="#111"/>
<line x1="1388.3" y1="1743.4" x2="1388.3" y2="1766.8" stroke="#111" stroke-width="3.5" />
<line x1="1406.7" y1="1766.8" x2="1406.7" y2="1759.4" stroke="#111" stroke-width="3.5" />
<polygon points="1400.8,1760.4 1412.6,1760.4 1406.7,1739.4" fill="#111"/>
<line x1="1425.2" y1="1766.8" x2="1425.2" y2="1759.4" stroke="#111" stroke-width="3.5" />
<polygon points="1419.3,1760.4 1431.1,1760.4 1425.2,1739.4" fill="#111"/>
<line x1="1443.6" y1="1766.8" x2="1443.6" y2="1759.4" stroke="#111" stroke-width="3.5" />
<polygon points="1437.7,1760.4 1449.5,1760.4 1443.6,1739.4" fill="#111"/>
<text x="1416" y="1794" font-size="26.8" text-anchor="middle">Excess</text>
<text x="1416" y="1820.6" font-size="26.8" text-anchor="middle">CoQ export</text>
<line x1="1388.3" y1="1830.6" x2="1388.3" y2="1837.9" stroke="#111" stroke-width="3.5" />
<polygon points="1382.4,1836.9 1394.2,1836.9 1388.3,1858.3" fill="#111"/>
<line x1="1406.7" y1="1830.6" x2="1406.7" y2="1853.5" stroke="#111" stroke-width="3.5" />
<line x1="1425.2" y1="1830.6" x2="1425.2" y2="1853.5" stroke="#111" stroke-width="3.5" />
<line x1="1443.6" y1="1830.6" x2="1443.6" y2="1853.5" stroke="#111" stroke-width="3.5" />
<circle cx="881.9" cy="1984" r="33.1" fill="#111" />
<circle cx="881.9" cy="2013.6" r="18.5" fill="#111" />
<circle cx="881.9" cy="1984" r="30.8" fill="#d42f18" />
<circle cx="881.9" cy="2013.6" r="16.2" fill="#d42f18" />
<rect x="871.9" y="1994" width="20" height="20" fill="#d42f18" />
<text x="881.9" y="1992" font-size="21.5" text-anchor="middle" font-weight="bold" fill="#fff">Cqd1</text>
<circle cx="1127.2" cy="1984.3" r="33.1" fill="#111" />
<circle cx="1127.2" cy="2013.9" r="18.5" fill="#111" />
<circle cx="1127.2" cy="1984.3" r="30.8" fill="#d42f18" />
<circle cx="1127.2" cy="2013.9" r="16.2" fill="#d42f18" />
<rect x="1117.2" y="1994.3" width="20" height="20" fill="#d42f18" />
<text x="1127.2" y="1992.3" font-size="21.5" text-anchor="middle" font-weight="bold" fill="#fff">Cqd1</text>
<circle cx="1212.6" cy="1984.3" r="33.1" fill="#111" />
<circle cx="1212.6" cy="2013.9" r="18.5" fill="#111" />
<circle cx="1212.6" cy="1984.3" r="30.8" fill="#8e8f8e" />
<circle cx="1212.6" cy="2013.9" r="16.2" fill="#8e8f8e" />
<rect x="1202.6" y="1994.3" width="20" height="20" fill="#8e8f8e" />
<text x="1212.6" y="1992.3" font-size="21.5" text-anchor="middle" font-weight="bold" fill="#fff">Cqd2</text>
<circle cx="1459" cy="1984.3" r="33.1" fill="#111" />
<circle cx="1459" cy="2013.9" r="18.5" fill="#111" />
<circle cx="1459" cy="1984.3" r="30.8" fill="#8e8f8e" />
<circle cx="1459" cy="2013.9" r="16.2" fill="#8e8f8e" />
<rect x="1449" y="1994.3" width="20" height="20" fill="#8e8f8e" />
<text x="1459" y="1992.3" font-size="21.5" text-anchor="middle" font-weight="bold" fill="#fff">Cqd2</text>
<text x="1415.7" y="2105" font-size="26.8" text-anchor="middle" fill="#9b1b22">Respiratory growth</text>
<text x="1416" y="2137" font-size="26.8" text-anchor="middle" fill="#9b1b22">deficiency</text>
<defs><filter id="bl1" x="-50%" y="-100%" width="200%" height="300%"><feGaussianBlur stdDeviation="2.2 1.8"/></filter><filter id="bl2" x="-50%" y="-100%" width="200%" height="300%"><feGaussianBlur stdDeviation="2.6 2.2"/></filter><filter id="bl3" x="-50%" y="-100%" width="200%" height="300%"><feGaussianBlur stdDeviation="4 4"/></filter><filter id="rb" x="-5%" y="-30%" width="110%" height="160%"><feGaussianBlur stdDeviation="0.7"/></filter><linearGradient id="bowl" x1="0" y1="0" x2="1" y2="0"><stop offset="0" stop-color="#a9173a"/><stop offset="0.18" stop-color="#b01c3c"/><stop offset="0.5" stop-color="#7e0a22"/><stop offset="1" stop-color="#66091c"/></linearGradient><linearGradient id="crist" x1="0" y1="0" x2="1" y2="0"><stop offset="0" stop-color="#d886a4"/><stop offset="0.4" stop-color="#b8648a"/><stop offset="0.6" stop-color="#d47ea0"/><stop offset="1" stop-color="#c06e92"/></linearGradient><linearGradient id="cw" x1="0" y1="0" x2="1" y2="0"><stop offset="0" stop-color="#c77196"/><stop offset="0.25" stop-color="#a45880"/><stop offset="0.45" stop-color="#d07a9c"/><stop offset="0.65" stop-color="#a85b82"/><stop offset="0.85" stop-color="#d27b9d"/><stop offset="1" stop-color="#b0628a"/></linearGradient></defs>
</svg></body></html>
